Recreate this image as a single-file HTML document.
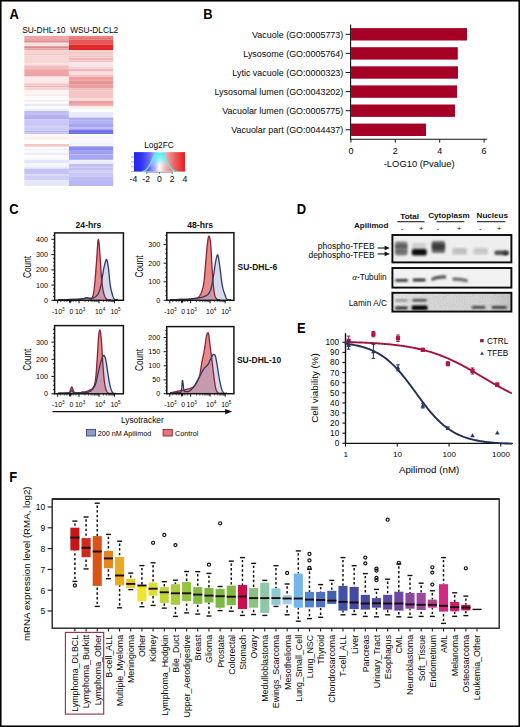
<!DOCTYPE html>
<html><head><meta charset="utf-8"><style>
html,body{margin:0;padding:0;background:#fff;}
svg{display:block;}
svg text{font-family:"Liberation Sans", sans-serif;}
</style></head><body>
<svg width="520" height="727" viewBox="0 0 520 727">
<rect x="0" y="0" width="520" height="727" fill="#fff"/>
<rect x="0.75" y="0.75" width="518.5" height="725.5" fill="none" stroke="#000" stroke-width="1.6"/>
<text transform="translate(9.5,18.8) scale(0.94,1)" x="0" y="0" font-size="13.8" font-weight="bold" fill="#000">A</text>
<text transform="translate(203.3,18.8) scale(0.94,1)" x="0" y="0" font-size="13.8" font-weight="bold" fill="#000">B</text>
<text transform="translate(9.2,214.4) scale(0.94,1)" x="0" y="0" font-size="13.8" font-weight="bold" fill="#000">C</text>
<text transform="translate(296.7,214.1) scale(0.94,1)" x="0" y="0" font-size="13.8" font-weight="bold" fill="#000">D</text>
<text transform="translate(297.0,332.8) scale(0.94,1)" x="0" y="0" font-size="13.8" font-weight="bold" fill="#000">E</text>
<text transform="translate(9.3,481.9) scale(0.94,1)" x="0" y="0" font-size="13.8" font-weight="bold" fill="#000">F</text>
<rect x="24.30" y="35.90" width="44.60" height="3.00" fill="#EBA6A6" stroke="none" stroke-width="1" />
<rect x="24.30" y="38.90" width="44.60" height="2.00" fill="#E8A0A0" stroke="none" stroke-width="1" />
<rect x="24.30" y="40.90" width="44.60" height="1.80" fill="#DF8E8E" stroke="none" stroke-width="1" />
<rect x="24.30" y="42.70" width="44.60" height="3.50" fill="#FBE2E2" stroke="none" stroke-width="1" />
<rect x="24.30" y="46.20" width="44.60" height="2.00" fill="#DD8888" stroke="none" stroke-width="1" />
<rect x="24.30" y="48.20" width="44.60" height="2.10" fill="#E8A4A4" stroke="none" stroke-width="1" />
<rect x="24.30" y="50.30" width="44.60" height="3.70" fill="#F6D2D2" stroke="none" stroke-width="1" />
<rect x="24.30" y="54.00" width="44.60" height="1.40" fill="#F0C4C4" stroke="none" stroke-width="1" />
<rect x="24.30" y="55.40" width="44.60" height="8.30" fill="#F7D6D6" stroke="none" stroke-width="1" />
<rect x="24.30" y="63.70" width="44.60" height="1.80" fill="#FAE0E0" stroke="none" stroke-width="1" />
<rect x="24.30" y="65.50" width="44.60" height="2.40" fill="#F0BABA" stroke="none" stroke-width="1" />
<rect x="24.30" y="67.90" width="44.60" height="1.30" fill="#F2C0C0" stroke="none" stroke-width="1" />
<rect x="24.30" y="69.20" width="44.60" height="7.40" fill="#EEA4A4" stroke="none" stroke-width="1" />
<rect x="24.30" y="76.60" width="44.60" height="6.80" fill="#FCE8E8" stroke="none" stroke-width="1" />
<rect x="24.30" y="83.40" width="44.60" height="2.10" fill="#F4C6C6" stroke="none" stroke-width="1" />
<rect x="24.30" y="85.50" width="44.60" height="2.00" fill="#F0B8B8" stroke="none" stroke-width="1" />
<rect x="24.30" y="87.50" width="44.60" height="2.40" fill="#F6D0D0" stroke="none" stroke-width="1" />
<rect x="24.30" y="89.90" width="44.60" height="4.60" fill="#FEF4F4" stroke="none" stroke-width="1" />
<rect x="24.30" y="94.50" width="44.60" height="1.40" fill="#FAE6E6" stroke="none" stroke-width="1" />
<rect x="24.30" y="95.90" width="44.60" height="4.10" fill="#FEFAFA" stroke="none" stroke-width="1" />
<rect x="24.30" y="100.00" width="44.60" height="1.90" fill="#F8F0F4" stroke="none" stroke-width="1" />
<rect x="24.30" y="101.90" width="44.60" height="1.80" fill="#FEFCFE" stroke="none" stroke-width="1" />
<rect x="24.30" y="103.70" width="44.60" height="2.60" fill="#E6EAF8" stroke="none" stroke-width="1" />
<rect x="24.30" y="106.30" width="44.60" height="2.30" fill="#FCFCFF" stroke="none" stroke-width="1" />
<rect x="24.30" y="108.60" width="44.60" height="2.30" fill="#F0F0FC" stroke="none" stroke-width="1" />
<rect x="24.30" y="110.90" width="44.60" height="4.20" fill="#BEBEF2" stroke="none" stroke-width="1" />
<rect x="24.30" y="115.10" width="44.60" height="4.10" fill="#B0B0F0" stroke="none" stroke-width="1" />
<rect x="24.30" y="119.20" width="44.60" height="6.00" fill="#C8C8F6" stroke="none" stroke-width="1" />
<rect x="24.30" y="125.20" width="44.60" height="1.40" fill="#C0C0F2" stroke="none" stroke-width="1" />
<rect x="24.30" y="126.60" width="44.60" height="4.20" fill="#CCCCF6" stroke="none" stroke-width="1" />
<rect x="24.30" y="130.80" width="44.60" height="1.80" fill="#B8B8F0" stroke="none" stroke-width="1" />
<rect x="24.30" y="132.60" width="44.60" height="1.70" fill="#C4C4F2" stroke="none" stroke-width="1" />
<rect x="24.30" y="134.30" width="44.60" height="3.20" fill="#FEF8FA" stroke="none" stroke-width="1" />
<rect x="24.30" y="137.50" width="44.60" height="1.90" fill="#FAEEE4" stroke="none" stroke-width="1" />
<rect x="24.30" y="139.40" width="44.60" height="4.60" fill="#FEFCFC" stroke="none" stroke-width="1" />
<rect x="24.30" y="144.00" width="44.60" height="2.80" fill="#F4C6C6" stroke="none" stroke-width="1" />
<rect x="24.30" y="146.80" width="44.60" height="1.80" fill="#FEFEFF" stroke="none" stroke-width="1" />
<rect x="24.30" y="148.60" width="44.60" height="1.90" fill="#EEF0FA" stroke="none" stroke-width="1" />
<rect x="24.30" y="150.50" width="44.60" height="2.70" fill="#F8F8FE" stroke="none" stroke-width="1" />
<rect x="24.30" y="153.20" width="44.60" height="1.90" fill="#ECECF8" stroke="none" stroke-width="1" />
<rect x="24.30" y="155.10" width="44.60" height="3.70" fill="#FCFCFE" stroke="none" stroke-width="1" />
<rect x="24.30" y="158.80" width="44.60" height="1.00" fill="#F8F8FE" stroke="none" stroke-width="1" />
<rect x="24.30" y="159.80" width="44.60" height="3.30" fill="#E4E4FA" stroke="none" stroke-width="1" />
<rect x="24.30" y="163.10" width="44.60" height="4.10" fill="#F4F4FC" stroke="none" stroke-width="1" />
<rect x="24.30" y="167.20" width="44.60" height="1.40" fill="#E4E4FA" stroke="none" stroke-width="1" />
<rect x="24.30" y="168.60" width="44.60" height="6.00" fill="#C4C4F4" stroke="none" stroke-width="1" />
<rect x="24.30" y="174.60" width="44.60" height="1.40" fill="#D8D8F8" stroke="none" stroke-width="1" />
<rect x="24.30" y="176.00" width="44.60" height="4.20" fill="#CECEF6" stroke="none" stroke-width="1" />
<rect x="24.30" y="180.20" width="44.60" height="5.80" fill="#E6E6FA" stroke="none" stroke-width="1" />
<rect x="68.90" y="35.90" width="44.30" height="1.30" fill="#E88282" stroke="none" stroke-width="1" />
<rect x="68.90" y="37.20" width="44.30" height="2.40" fill="#E07070" stroke="none" stroke-width="1" />
<rect x="68.90" y="39.60" width="44.30" height="4.80" fill="#E45858" stroke="none" stroke-width="1" />
<rect x="68.90" y="44.40" width="44.30" height="5.80" fill="#E02828" stroke="none" stroke-width="1" />
<rect x="68.90" y="50.20" width="44.30" height="1.60" fill="#F6D0D0" stroke="none" stroke-width="1" />
<rect x="68.90" y="51.80" width="44.30" height="2.00" fill="#F2C2C4" stroke="none" stroke-width="1" />
<rect x="68.90" y="53.80" width="44.30" height="1.90" fill="#F4CCCC" stroke="none" stroke-width="1" />
<rect x="68.90" y="55.70" width="44.30" height="1.90" fill="#F2C4C6" stroke="none" stroke-width="1" />
<rect x="68.90" y="57.60" width="44.30" height="2.90" fill="#F0B8BC" stroke="none" stroke-width="1" />
<rect x="68.90" y="60.50" width="44.30" height="1.50" fill="#F2C4C6" stroke="none" stroke-width="1" />
<rect x="68.90" y="62.00" width="44.30" height="4.80" fill="#FAE6EA" stroke="none" stroke-width="1" />
<rect x="68.90" y="66.80" width="44.30" height="1.90" fill="#F6D4D6" stroke="none" stroke-width="1" />
<rect x="68.90" y="68.70" width="44.30" height="2.90" fill="#F0B8BC" stroke="none" stroke-width="1" />
<rect x="68.90" y="71.60" width="44.30" height="3.30" fill="#F8DEDE" stroke="none" stroke-width="1" />
<rect x="68.90" y="74.90" width="44.30" height="2.10" fill="#F2C4C4" stroke="none" stroke-width="1" />
<rect x="68.90" y="77.00" width="44.30" height="3.30" fill="#EEA0A0" stroke="none" stroke-width="1" />
<rect x="68.90" y="80.30" width="44.30" height="4.40" fill="#E89494" stroke="none" stroke-width="1" />
<rect x="68.90" y="84.70" width="44.30" height="3.80" fill="#EC9E9E" stroke="none" stroke-width="1" />
<rect x="68.90" y="88.50" width="44.30" height="1.90" fill="#F4BCBC" stroke="none" stroke-width="1" />
<rect x="68.90" y="90.40" width="44.30" height="7.70" fill="#F4C6C6" stroke="none" stroke-width="1" />
<rect x="68.90" y="98.10" width="44.30" height="2.90" fill="#F8D8D8" stroke="none" stroke-width="1" />
<rect x="68.90" y="101.00" width="44.30" height="2.90" fill="#EC9C9C" stroke="none" stroke-width="1" />
<rect x="68.90" y="103.90" width="44.30" height="2.00" fill="#F0A8A8" stroke="none" stroke-width="1" />
<rect x="68.90" y="105.90" width="44.30" height="2.90" fill="#FCEEEA" stroke="none" stroke-width="1" />
<rect x="68.90" y="108.80" width="44.30" height="3.40" fill="#FEFEFE" stroke="none" stroke-width="1" />
<rect x="68.90" y="112.20" width="44.30" height="5.30" fill="#EAEAFA" stroke="none" stroke-width="1" />
<rect x="68.90" y="117.50" width="44.30" height="3.30" fill="#ACACF0" stroke="none" stroke-width="1" />
<rect x="68.90" y="120.80" width="44.30" height="2.40" fill="#B4B4F2" stroke="none" stroke-width="1" />
<rect x="68.90" y="123.20" width="44.30" height="3.90" fill="#A4A4F0" stroke="none" stroke-width="1" />
<rect x="68.90" y="127.10" width="44.30" height="2.40" fill="#B8B8F4" stroke="none" stroke-width="1" />
<rect x="68.90" y="129.50" width="44.30" height="4.50" fill="#7474E6" stroke="none" stroke-width="1" />
<rect x="68.90" y="134.00" width="44.30" height="2.30" fill="#FCFCFF" stroke="none" stroke-width="1" />
<rect x="68.90" y="136.30" width="44.30" height="2.90" fill="#FCF4EE" stroke="none" stroke-width="1" />
<rect x="68.90" y="139.20" width="44.30" height="3.40" fill="#F8F8FE" stroke="none" stroke-width="1" />
<rect x="68.90" y="142.60" width="44.30" height="3.80" fill="#F2F4FC" stroke="none" stroke-width="1" />
<rect x="68.90" y="146.40" width="44.30" height="4.40" fill="#8C8CEE" stroke="none" stroke-width="1" />
<rect x="68.90" y="150.80" width="44.30" height="3.80" fill="#A0A0F2" stroke="none" stroke-width="1" />
<rect x="68.90" y="154.60" width="44.30" height="5.30" fill="#A8A8F2" stroke="none" stroke-width="1" />
<rect x="68.90" y="159.90" width="44.30" height="3.90" fill="#EEEEFC" stroke="none" stroke-width="1" />
<rect x="68.90" y="163.80" width="44.30" height="3.80" fill="#C4C4F4" stroke="none" stroke-width="1" />
<rect x="68.90" y="167.60" width="44.30" height="2.40" fill="#C0C0F4" stroke="none" stroke-width="1" />
<rect x="68.90" y="170.00" width="44.30" height="2.40" fill="#D0D0F6" stroke="none" stroke-width="1" />
<rect x="68.90" y="172.40" width="44.30" height="3.90" fill="#C8C8F4" stroke="none" stroke-width="1" />
<rect x="68.90" y="176.30" width="44.30" height="3.80" fill="#BCBCF2" stroke="none" stroke-width="1" />
<rect x="68.90" y="180.10" width="44.30" height="5.90" fill="#B8B8F2" stroke="none" stroke-width="1" />
<text x="22.20" y="32.60" font-size="8.4" text-anchor="start" font-weight="normal" fill="#050505" >SU-DHL-10</text>
<text x="70.20" y="32.60" font-size="8.3" text-anchor="start" font-weight="normal" fill="#050505" >WSU-DLCL2</text>
<defs><linearGradient id="cbg" x1="0" x2="1" y1="0" y2="0"><stop offset="0" stop-color="#2424F2"/><stop offset="0.15" stop-color="#3434F2"/><stop offset="0.3" stop-color="#6a6af2"/><stop offset="0.4" stop-color="#a8a8f6"/><stop offset="0.5" stop-color="#FFFFFF"/><stop offset="0.62" stop-color="#F4B0B0"/><stop offset="0.8" stop-color="#EC6060"/><stop offset="1" stop-color="#E81C1C"/></linearGradient><linearGradient id="cyf" x1="0" x2="0" y1="0" y2="1"><stop offset="0" stop-color="#50F0F0" stop-opacity="0.95"/><stop offset="0.25" stop-color="#60F0F0" stop-opacity="0.85"/><stop offset="0.55" stop-color="#90F0F0" stop-opacity="0.35"/><stop offset="0.8" stop-color="#ffffff" stop-opacity="0"/></linearGradient></defs>
<rect x="134.00" y="152.10" width="51.00" height="19.50" fill="url(#cbg)" stroke="none" stroke-width="1" />
<path d="M142.00,171.60 L142.41,171.49 L143.00,171.35 L143.68,171.16 L144.38,170.92 L145.00,170.60 L145.55,170.20 L146.07,169.74 L146.58,169.22 L147.09,168.64 L147.60,168.00 L148.13,167.30 L148.66,166.53 L149.19,165.72 L149.71,164.87 L150.20,164.00 L150.67,163.10 L151.12,162.14 L151.56,161.17 L151.99,160.21 L152.40,159.30 L152.81,158.42 L153.20,157.55 L153.58,156.72 L153.95,155.93 L154.30,155.20 L154.65,154.51 L155.00,153.85 L155.33,153.26 L155.60,152.76 L155.80,152.40 L163.60,152.40 L163.76,152.76 L163.98,153.26 L164.24,153.85 L164.52,154.51 L164.80,155.20 L165.07,155.93 L165.36,156.72 L165.66,157.55 L165.97,158.42 L166.30,159.30 L166.64,160.21 L167.00,161.17 L167.37,162.14 L167.77,163.10 L168.20,164.00 L168.67,164.87 L169.18,165.72 L169.71,166.53 L170.26,167.30 L170.80,168.00 L171.34,168.64 L171.88,169.22 L172.43,169.74 L173.00,170.20 L173.60,170.60 L174.30,170.92 L175.08,171.16 L175.86,171.35 L176.53,171.49 L177.00,171.60 Z" fill="url(#cyf)" stroke="none"/>
<path d="M142.00,171.60 L142.41,171.49 L143.00,171.35 L143.68,171.16 L144.38,170.92 L145.00,170.60 L145.55,170.20 L146.07,169.74 L146.58,169.22 L147.09,168.64 L147.60,168.00 L148.13,167.30 L148.66,166.53 L149.19,165.72 L149.71,164.87 L150.20,164.00 L150.67,163.10 L151.12,162.14 L151.56,161.17 L151.99,160.21 L152.40,159.30 L152.81,158.42 L153.20,157.55 L153.58,156.72 L153.95,155.93 L154.30,155.20 L154.65,154.51 L155.00,153.85 L155.33,153.26 L155.60,152.76 L155.80,152.40" fill="none" stroke="#5EEAEE" stroke-width="1.4"/>
<path d="M163.60,152.40 L163.76,152.76 L163.98,153.26 L164.24,153.85 L164.52,154.51 L164.80,155.20 L165.07,155.93 L165.36,156.72 L165.66,157.55 L165.97,158.42 L166.30,159.30 L166.64,160.21 L167.00,161.17 L167.37,162.14 L167.77,163.10 L168.20,164.00 L168.67,164.87 L169.18,165.72 L169.71,166.53 L170.26,167.30 L170.80,168.00 L171.34,168.64 L171.88,169.22 L172.43,169.74 L173.00,170.20 L173.60,170.60 L174.30,170.92 L175.08,171.16 L175.86,171.35 L176.53,171.49 L177.00,171.60" fill="none" stroke="#5EEAEE" stroke-width="1.4"/>
<line x1="131.00" y1="157.00" x2="134.00" y2="157.00" stroke="#9a9a80" stroke-width="0.8" />
<line x1="131.00" y1="161.90" x2="134.00" y2="161.90" stroke="#9a9a80" stroke-width="0.8" />
<line x1="131.00" y1="166.80" x2="134.00" y2="166.80" stroke="#9a9a80" stroke-width="0.8" />
<line x1="131.00" y1="171.60" x2="134.00" y2="171.60" stroke="#9a9a80" stroke-width="0.8" />
<line x1="146.75" y1="172.20" x2="172.25" y2="172.20" stroke="#8a9090" stroke-width="0.9" />
<line x1="146.75" y1="172.00" x2="146.75" y2="174.00" stroke="#707878" stroke-width="0.9" />
<line x1="159.50" y1="172.00" x2="159.50" y2="174.00" stroke="#707878" stroke-width="0.9" />
<line x1="172.25" y1="172.00" x2="172.25" y2="174.00" stroke="#707878" stroke-width="0.9" />
<text x="159.00" y="148.20" font-size="8.3" text-anchor="middle" font-weight="normal" fill="#050505" >Log2FC</text>
<text x="133.40" y="182.30" font-size="8.6" text-anchor="middle" font-weight="normal" fill="#050505" >-4</text>
<text x="146.15" y="182.30" font-size="8.6" text-anchor="middle" font-weight="normal" fill="#050505" >-2</text>
<text x="159.50" y="182.30" font-size="8.6" text-anchor="middle" font-weight="normal" fill="#050505" >0</text>
<text x="172.25" y="182.30" font-size="8.6" text-anchor="middle" font-weight="normal" fill="#050505" >2</text>
<text x="185.00" y="182.30" font-size="8.6" text-anchor="middle" font-weight="normal" fill="#050505" >4</text>
<rect x="351.10" y="28.10" width="115.90" height="12.40" fill="#A60026" stroke="none" stroke-width="1" />
<text x="343.30" y="37.60" font-size="8.95" text-anchor="end" font-weight="normal" fill="#050505" >Vacuole (GO:0005773)</text>
<line x1="345.60" y1="34.30" x2="350.60" y2="34.30" stroke="#111" stroke-width="1" />
<rect x="351.10" y="47.20" width="106.70" height="12.40" fill="#A60026" stroke="none" stroke-width="1" />
<text x="343.30" y="56.70" font-size="8.95" text-anchor="end" font-weight="normal" fill="#050505" >Lysosome (GO:0005764)</text>
<line x1="345.60" y1="53.40" x2="350.60" y2="53.40" stroke="#111" stroke-width="1" />
<rect x="351.10" y="66.30" width="106.90" height="12.40" fill="#A60026" stroke="none" stroke-width="1" />
<text x="343.30" y="75.80" font-size="8.95" text-anchor="end" font-weight="normal" fill="#050505" >Lytic vacuole (GO:0000323)</text>
<line x1="345.60" y1="72.50" x2="350.60" y2="72.50" stroke="#111" stroke-width="1" />
<rect x="351.10" y="85.40" width="105.90" height="12.40" fill="#A60026" stroke="none" stroke-width="1" />
<text x="343.30" y="94.90" font-size="8.95" text-anchor="end" font-weight="normal" fill="#050505" >Lysosomal lumen (GO:0043202)</text>
<line x1="345.60" y1="91.60" x2="350.60" y2="91.60" stroke="#111" stroke-width="1" />
<rect x="351.10" y="104.50" width="103.90" height="12.40" fill="#A60026" stroke="none" stroke-width="1" />
<text x="343.30" y="114.00" font-size="8.95" text-anchor="end" font-weight="normal" fill="#050505" >Vacuolar lumen (GO:0005775)</text>
<line x1="345.60" y1="110.70" x2="350.60" y2="110.70" stroke="#111" stroke-width="1" />
<rect x="351.10" y="123.60" width="74.90" height="12.40" fill="#A60026" stroke="none" stroke-width="1" />
<text x="343.30" y="133.10" font-size="8.95" text-anchor="end" font-weight="normal" fill="#050505" >Vacuolar part (GO:0044437)</text>
<line x1="345.60" y1="129.80" x2="350.60" y2="129.80" stroke="#111" stroke-width="1" />
<line x1="350.60" y1="24.40" x2="350.60" y2="139.60" stroke="#111" stroke-width="1.1" />
<line x1="350.00" y1="139.20" x2="487.20" y2="139.20" stroke="#111" stroke-width="1.1" />
<line x1="350.90" y1="139.20" x2="350.90" y2="142.60" stroke="#111" stroke-width="1" />
<text x="350.90" y="153.80" font-size="9" text-anchor="middle" font-weight="normal" fill="#050505" >0</text>
<line x1="395.30" y1="139.20" x2="395.30" y2="142.60" stroke="#111" stroke-width="1" />
<text x="395.30" y="153.80" font-size="9" text-anchor="middle" font-weight="normal" fill="#050505" >2</text>
<line x1="439.70" y1="139.20" x2="439.70" y2="142.60" stroke="#111" stroke-width="1" />
<text x="439.70" y="153.80" font-size="9" text-anchor="middle" font-weight="normal" fill="#050505" >4</text>
<line x1="484.10" y1="139.20" x2="484.10" y2="142.60" stroke="#111" stroke-width="1" />
<text x="484.10" y="153.80" font-size="9" text-anchor="middle" font-weight="normal" fill="#050505" >6</text>
<text x="419.20" y="166.90" font-size="9.4" text-anchor="middle" font-weight="normal" fill="#050505" >-LOG10 (Pvalue)</text>
<text x="88.50" y="228.20" font-size="8.6" text-anchor="middle" font-weight="bold" fill="#111" >24-hrs</text>
<text x="200.20" y="228.20" font-size="8.6" text-anchor="middle" font-weight="bold" fill="#111" >48-hrs</text>
<text x="237.50" y="269.70" font-size="8.5" text-anchor="start" font-weight="bold" fill="#111" >SU-DHL-6</text>
<text x="236.90" y="363.10" font-size="8.5" text-anchor="start" font-weight="bold" fill="#111" >SU-DHL-10</text>
<path d="M58.00,299.60 L59.94,299.59 L62.70,299.57 L65.94,299.55 L69.30,299.52 L72.43,299.47 L75.00,299.40 L77.03,299.30 L78.81,299.17 L80.38,299.03 L81.74,298.88 L82.94,298.73 L84.00,298.60 L84.85,298.46 L85.44,298.30 L85.88,298.14 L86.22,298.01 L86.57,297.92 L87.00,297.90 L87.51,297.97 L88.04,298.13 L88.56,298.33 L89.07,298.54 L89.56,298.71 L90.00,298.80 L90.39,298.91 L90.73,299.10 L91.05,299.24 L91.36,299.25 L91.67,299.00 L92.00,298.40 L92.35,297.56 L92.71,296.59 L93.08,295.36 L93.45,293.77 L93.83,291.69 L94.20,289.00 L94.58,285.47 L94.98,281.14 L95.38,276.33 L95.77,271.33 L96.14,266.45 L96.50,262.00 L96.83,257.49 L97.13,252.58 L97.43,247.79 L97.71,243.64 L98.00,240.64 L98.30,239.30 L98.62,239.98 L98.94,242.33 L99.27,245.83 L99.59,249.95 L99.91,254.18 L100.20,258.00 L100.46,261.63 L100.70,265.55 L100.93,269.57 L101.16,273.53 L101.41,277.23 L101.70,280.50 L102.03,283.36 L102.38,285.97 L102.76,288.32 L103.15,290.43 L103.57,292.32 L104.00,294.00 L104.45,295.43 L104.91,296.59 L105.39,297.53 L105.90,298.28 L106.43,298.89 L107.00,299.40 L107.66,299.75 L108.41,299.89 L109.19,299.89 L109.93,299.81 L110.55,299.73 L111.00,299.70 L111.00,299.70 L58.00,299.70 Z" fill="rgba(214,74,70,0.64)" stroke="none"/>
<path d="M58.00,299.60 L59.94,299.59 L62.70,299.58 L65.94,299.56 L69.30,299.53 L72.43,299.48 L75.00,299.40 L77.04,299.28 L78.83,299.12 L80.41,298.94 L81.78,298.75 L82.97,298.56 L84.00,298.40 L84.79,298.24 L85.31,298.07 L85.66,297.90 L85.91,297.76 L86.16,297.65 L86.50,297.60 L86.89,297.63 L87.26,297.73 L87.62,297.88 L88.02,298.02 L88.47,298.14 L89.00,298.20 L89.63,298.23 L90.35,298.27 L91.12,298.27 L91.93,298.22 L92.73,298.07 L93.50,297.80 L94.27,297.42 L95.06,296.98 L95.84,296.44 L96.61,295.78 L97.34,294.97 L98.00,294.00 L98.60,292.85 L99.14,291.55 L99.64,290.11 L100.11,288.53 L100.56,286.82 L101.00,285.00 L101.42,282.96 L101.80,280.67 L102.16,278.25 L102.51,275.83 L102.85,273.54 L103.20,271.50 L103.55,269.67 L103.90,267.94 L104.24,266.34 L104.58,264.88 L104.90,263.59 L105.20,262.50 L105.48,261.53 L105.73,260.64 L105.96,259.93 L106.20,259.47 L106.44,259.33 L106.70,259.60 L106.99,260.33 L107.29,261.47 L107.60,262.93 L107.91,264.64 L108.21,266.53 L108.50,268.50 L108.76,270.70 L109.00,273.21 L109.22,275.90 L109.46,278.61 L109.71,281.19 L110.00,283.50 L110.33,285.57 L110.68,287.53 L111.05,289.36 L111.43,291.06 L111.82,292.61 L112.20,294.00 L112.56,295.23 L112.91,296.30 L113.27,297.23 L113.64,298.01 L114.05,298.67 L114.50,299.20 L115.05,299.56 L115.71,299.73 L116.39,299.77 L117.05,299.74 L117.61,299.70 L118.00,299.70 L118.00,299.70 L58.00,299.70 Z" fill="rgba(160,170,215,0.45)" stroke="none"/>
<path d="M58.00,299.60 L59.94,299.59 L62.70,299.57 L65.94,299.55 L69.30,299.52 L72.43,299.47 L75.00,299.40 L77.03,299.30 L78.81,299.17 L80.38,299.03 L81.74,298.88 L82.94,298.73 L84.00,298.60 L84.85,298.46 L85.44,298.30 L85.88,298.14 L86.22,298.01 L86.57,297.92 L87.00,297.90 L87.51,297.97 L88.04,298.13 L88.56,298.33 L89.07,298.54 L89.56,298.71 L90.00,298.80 L90.39,298.91 L90.73,299.10 L91.05,299.24 L91.36,299.25 L91.67,299.00 L92.00,298.40 L92.35,297.56 L92.71,296.59 L93.08,295.36 L93.45,293.77 L93.83,291.69 L94.20,289.00 L94.58,285.47 L94.98,281.14 L95.38,276.33 L95.77,271.33 L96.14,266.45 L96.50,262.00 L96.83,257.49 L97.13,252.58 L97.43,247.79 L97.71,243.64 L98.00,240.64 L98.30,239.30 L98.62,239.98 L98.94,242.33 L99.27,245.83 L99.59,249.95 L99.91,254.18 L100.20,258.00 L100.46,261.63 L100.70,265.55 L100.93,269.57 L101.16,273.53 L101.41,277.23 L101.70,280.50 L102.03,283.36 L102.38,285.97 L102.76,288.32 L103.15,290.43 L103.57,292.32 L104.00,294.00 L104.45,295.43 L104.91,296.59 L105.39,297.53 L105.90,298.28 L106.43,298.89 L107.00,299.40 L107.66,299.75 L108.41,299.89 L109.19,299.89 L109.93,299.81 L110.55,299.73 L111.00,299.70" fill="none" stroke="#8F2035" stroke-width="1.3" stroke-linejoin="round"/>
<path d="M58.00,299.60 L59.94,299.59 L62.70,299.58 L65.94,299.56 L69.30,299.53 L72.43,299.48 L75.00,299.40 L77.04,299.28 L78.83,299.12 L80.41,298.94 L81.78,298.75 L82.97,298.56 L84.00,298.40 L84.79,298.24 L85.31,298.07 L85.66,297.90 L85.91,297.76 L86.16,297.65 L86.50,297.60 L86.89,297.63 L87.26,297.73 L87.62,297.88 L88.02,298.02 L88.47,298.14 L89.00,298.20 L89.63,298.23 L90.35,298.27 L91.12,298.27 L91.93,298.22 L92.73,298.07 L93.50,297.80 L94.27,297.42 L95.06,296.98 L95.84,296.44 L96.61,295.78 L97.34,294.97 L98.00,294.00 L98.60,292.85 L99.14,291.55 L99.64,290.11 L100.11,288.53 L100.56,286.82 L101.00,285.00 L101.42,282.96 L101.80,280.67 L102.16,278.25 L102.51,275.83 L102.85,273.54 L103.20,271.50 L103.55,269.67 L103.90,267.94 L104.24,266.34 L104.58,264.88 L104.90,263.59 L105.20,262.50 L105.48,261.53 L105.73,260.64 L105.96,259.93 L106.20,259.47 L106.44,259.33 L106.70,259.60 L106.99,260.33 L107.29,261.47 L107.60,262.93 L107.91,264.64 L108.21,266.53 L108.50,268.50 L108.76,270.70 L109.00,273.21 L109.22,275.90 L109.46,278.61 L109.71,281.19 L110.00,283.50 L110.33,285.57 L110.68,287.53 L111.05,289.36 L111.43,291.06 L111.82,292.61 L112.20,294.00 L112.56,295.23 L112.91,296.30 L113.27,297.23 L113.64,298.01 L114.05,298.67 L114.50,299.20 L115.05,299.56 L115.71,299.73 L116.39,299.77 L117.05,299.74 L117.61,299.70 L118.00,299.70" fill="none" stroke="#303A62" stroke-width="1.3" stroke-linejoin="round"/>
<rect x="54.60" y="232.90" width="68.80" height="67.40" fill="none" stroke="#151515" stroke-width="1.5" />
<line x1="51.40" y1="239.30" x2="54.60" y2="239.30" stroke="#151515" stroke-width="1" />
<text x="48.00" y="241.70" font-size="7.2" text-anchor="end" font-weight="normal" fill="#050505" >400</text>
<line x1="51.40" y1="254.60" x2="54.60" y2="254.60" stroke="#151515" stroke-width="1" />
<text x="48.00" y="257.00" font-size="7.2" text-anchor="end" font-weight="normal" fill="#050505" >300</text>
<line x1="51.40" y1="269.90" x2="54.60" y2="269.90" stroke="#151515" stroke-width="1" />
<text x="48.00" y="272.30" font-size="7.2" text-anchor="end" font-weight="normal" fill="#050505" >200</text>
<line x1="51.40" y1="285.10" x2="54.60" y2="285.10" stroke="#151515" stroke-width="1" />
<text x="48.00" y="287.50" font-size="7.2" text-anchor="end" font-weight="normal" fill="#050505" >100</text>
<line x1="51.40" y1="300.30" x2="54.60" y2="300.30" stroke="#151515" stroke-width="1" />
<text x="48.00" y="302.70" font-size="7.2" text-anchor="end" font-weight="normal" fill="#050505" >0</text>
<line x1="53.00" y1="235.49" x2="54.60" y2="235.49" stroke="#151515" stroke-width="0.8" />
<line x1="53.00" y1="243.11" x2="54.60" y2="243.11" stroke="#151515" stroke-width="0.8" />
<line x1="53.00" y1="246.93" x2="54.60" y2="246.93" stroke="#151515" stroke-width="0.8" />
<line x1="53.00" y1="250.74" x2="54.60" y2="250.74" stroke="#151515" stroke-width="0.8" />
<line x1="53.00" y1="258.36" x2="54.60" y2="258.36" stroke="#151515" stroke-width="0.8" />
<line x1="53.00" y1="262.18" x2="54.60" y2="262.18" stroke="#151515" stroke-width="0.8" />
<line x1="53.00" y1="265.99" x2="54.60" y2="265.99" stroke="#151515" stroke-width="0.8" />
<line x1="53.00" y1="273.61" x2="54.60" y2="273.61" stroke="#151515" stroke-width="0.8" />
<line x1="53.00" y1="277.43" x2="54.60" y2="277.43" stroke="#151515" stroke-width="0.8" />
<line x1="53.00" y1="281.24" x2="54.60" y2="281.24" stroke="#151515" stroke-width="0.8" />
<line x1="53.00" y1="288.86" x2="54.60" y2="288.86" stroke="#151515" stroke-width="0.8" />
<line x1="53.00" y1="292.68" x2="54.60" y2="292.68" stroke="#151515" stroke-width="0.8" />
<line x1="53.00" y1="296.49" x2="54.60" y2="296.49" stroke="#151515" stroke-width="0.8" />
<line x1="57.70" y1="300.30" x2="57.70" y2="303.30" stroke="#151515" stroke-width="1" />
<line x1="70.08" y1="300.30" x2="70.08" y2="303.30" stroke="#151515" stroke-width="1" />
<line x1="79.02" y1="300.30" x2="79.02" y2="303.30" stroke="#151515" stroke-width="1" />
<line x1="98.98" y1="300.30" x2="98.98" y2="303.30" stroke="#151515" stroke-width="1" />
<line x1="114.46" y1="300.30" x2="114.46" y2="303.30" stroke="#151515" stroke-width="1" />
<line x1="85.03" y1="300.30" x2="85.03" y2="302.10" stroke="#151515" stroke-width="0.7" />
<line x1="88.54" y1="300.30" x2="88.54" y2="302.10" stroke="#151515" stroke-width="0.7" />
<line x1="91.04" y1="300.30" x2="91.04" y2="302.10" stroke="#151515" stroke-width="0.7" />
<line x1="92.97" y1="300.30" x2="92.97" y2="302.10" stroke="#151515" stroke-width="0.7" />
<line x1="94.55" y1="300.30" x2="94.55" y2="302.10" stroke="#151515" stroke-width="0.7" />
<line x1="95.89" y1="300.30" x2="95.89" y2="302.10" stroke="#151515" stroke-width="0.7" />
<line x1="97.04" y1="300.30" x2="97.04" y2="302.10" stroke="#151515" stroke-width="0.7" />
<line x1="98.06" y1="300.30" x2="98.06" y2="302.10" stroke="#151515" stroke-width="0.7" />
<line x1="103.64" y1="300.30" x2="103.64" y2="302.10" stroke="#151515" stroke-width="0.7" />
<line x1="106.36" y1="300.30" x2="106.36" y2="302.10" stroke="#151515" stroke-width="0.7" />
<line x1="108.30" y1="300.30" x2="108.30" y2="302.10" stroke="#151515" stroke-width="0.7" />
<line x1="109.80" y1="300.30" x2="109.80" y2="302.10" stroke="#151515" stroke-width="0.7" />
<line x1="111.02" y1="300.30" x2="111.02" y2="302.10" stroke="#151515" stroke-width="0.7" />
<line x1="112.06" y1="300.30" x2="112.06" y2="302.10" stroke="#151515" stroke-width="0.7" />
<line x1="112.96" y1="300.30" x2="112.96" y2="302.10" stroke="#151515" stroke-width="0.7" />
<line x1="113.75" y1="300.30" x2="113.75" y2="302.10" stroke="#151515" stroke-width="0.7" />
<line x1="60.79" y1="300.30" x2="60.79" y2="302.10" stroke="#151515" stroke-width="0.7" />
<line x1="64.23" y1="300.30" x2="64.23" y2="302.10" stroke="#151515" stroke-width="0.7" />
<line x1="66.98" y1="300.30" x2="66.98" y2="302.10" stroke="#151515" stroke-width="0.7" />
<line x1="73.18" y1="300.30" x2="73.18" y2="302.10" stroke="#151515" stroke-width="0.7" />
<line x1="75.93" y1="300.30" x2="75.93" y2="302.10" stroke="#151515" stroke-width="0.7" />
<rect x="69.09" y="299.70" width="2.40" height="2.60" fill="#111" stroke="none" stroke-width="1" />
<text x="58.30" y="313.60" font-size="6.9" text-anchor="middle" fill="#050505">-10<tspan font-size="4.6" dy="-2.9">3</tspan></text>
<text x="71.32" y="313.60" font-size="6.9" text-anchor="middle" font-weight="normal" fill="#050505" >0</text>
<text x="80.12" y="313.60" font-size="6.9" text-anchor="middle" fill="#050505">10<tspan font-size="4.6" dy="-2.9">3</tspan></text>
<text x="100.08" y="313.60" font-size="6.9" text-anchor="middle" fill="#050505">10<tspan font-size="4.6" dy="-2.9">4</tspan></text>
<text x="115.56" y="313.60" font-size="6.9" text-anchor="middle" fill="#050505">10<tspan font-size="4.6" dy="-2.9">5</tspan></text>
<text transform="translate(31.00,267.00) rotate(-90) scale(0.77,1)" x="0" y="0" font-size="10.8" text-anchor="middle" fill="#050505">Count</text>
<path d="M170.00,299.60 L171.71,299.59 L174.15,299.57 L177.00,299.55 L179.96,299.52 L182.73,299.47 L185.00,299.40 L186.76,299.31 L188.26,299.21 L189.56,299.10 L190.74,298.96 L191.86,298.80 L193.00,298.60 L194.13,298.47 L195.20,298.44 L196.22,298.39 L197.19,298.18 L198.11,297.69 L199.00,296.80 L199.86,295.54 L200.70,294.00 L201.49,292.19 L202.23,290.10 L202.90,287.70 L203.50,285.00 L204.00,281.83 L204.42,278.18 L204.77,274.23 L205.08,270.17 L205.38,266.20 L205.70,262.50 L206.03,258.93 L206.34,255.31 L206.64,251.77 L206.94,248.45 L207.22,245.48 L207.50,243.00 L207.77,240.96 L208.01,239.23 L208.26,237.86 L208.50,236.88 L208.74,236.31 L209.00,236.20 L209.27,236.51 L209.56,237.21 L209.85,238.33 L210.14,239.90 L210.43,241.95 L210.70,244.50 L210.96,247.81 L211.20,251.89 L211.44,256.46 L211.69,261.20 L211.93,265.81 L212.20,270.00 L212.48,273.92 L212.76,277.83 L213.06,281.62 L213.36,285.17 L213.67,288.33 L214.00,291.00 L214.32,293.10 L214.64,294.73 L214.97,295.99 L215.33,296.97 L215.74,297.77 L216.20,298.50 L216.78,299.08 L217.49,299.41 L218.24,299.57 L218.96,299.62 L219.57,299.64 L220.00,299.70 L220.00,299.70 L170.00,299.70 Z" fill="rgba(214,74,70,0.64)" stroke="none"/>
<path d="M170.00,299.60 L171.71,299.58 L174.15,299.56 L177.00,299.54 L179.96,299.50 L182.73,299.46 L185.00,299.40 L186.69,299.35 L188.04,299.30 L189.19,299.25 L190.30,299.16 L191.52,299.02 L193.00,298.80 L194.85,298.51 L196.96,298.18 L199.17,297.79 L201.36,297.33 L203.35,296.81 L205.00,296.20 L206.29,295.58 L207.32,294.97 L208.16,294.28 L208.88,293.44 L209.54,292.38 L210.20,291.00 L210.84,289.25 L211.39,287.17 L211.88,284.86 L212.33,282.42 L212.77,279.93 L213.20,277.50 L213.62,275.00 L214.02,272.34 L214.40,269.64 L214.77,267.01 L215.13,264.59 L215.50,262.50 L215.87,260.58 L216.25,258.71 L216.62,257.04 L216.99,255.73 L217.35,254.93 L217.70,254.80 L218.04,255.42 L218.36,256.68 L218.68,258.45 L219.00,260.60 L219.34,262.99 L219.70,265.50 L220.08,268.34 L220.48,271.68 L220.89,275.26 L221.31,278.84 L221.75,282.17 L222.20,285.00 L222.68,287.35 L223.19,289.41 L223.71,291.22 L224.23,292.81 L224.73,294.23 L225.20,295.50 L225.61,296.59 L225.97,297.46 L226.32,298.14 L226.67,298.69 L227.06,299.13 L227.50,299.50 L228.05,299.76 L228.71,299.86 L229.39,299.85 L230.05,299.79 L230.61,299.72 L231.00,299.70 L231.00,299.70 L170.00,299.70 Z" fill="rgba(160,170,215,0.45)" stroke="none"/>
<path d="M170.00,299.60 L171.71,299.59 L174.15,299.57 L177.00,299.55 L179.96,299.52 L182.73,299.47 L185.00,299.40 L186.76,299.31 L188.26,299.21 L189.56,299.10 L190.74,298.96 L191.86,298.80 L193.00,298.60 L194.13,298.47 L195.20,298.44 L196.22,298.39 L197.19,298.18 L198.11,297.69 L199.00,296.80 L199.86,295.54 L200.70,294.00 L201.49,292.19 L202.23,290.10 L202.90,287.70 L203.50,285.00 L204.00,281.83 L204.42,278.18 L204.77,274.23 L205.08,270.17 L205.38,266.20 L205.70,262.50 L206.03,258.93 L206.34,255.31 L206.64,251.77 L206.94,248.45 L207.22,245.48 L207.50,243.00 L207.77,240.96 L208.01,239.23 L208.26,237.86 L208.50,236.88 L208.74,236.31 L209.00,236.20 L209.27,236.51 L209.56,237.21 L209.85,238.33 L210.14,239.90 L210.43,241.95 L210.70,244.50 L210.96,247.81 L211.20,251.89 L211.44,256.46 L211.69,261.20 L211.93,265.81 L212.20,270.00 L212.48,273.92 L212.76,277.83 L213.06,281.62 L213.36,285.17 L213.67,288.33 L214.00,291.00 L214.32,293.10 L214.64,294.73 L214.97,295.99 L215.33,296.97 L215.74,297.77 L216.20,298.50 L216.78,299.08 L217.49,299.41 L218.24,299.57 L218.96,299.62 L219.57,299.64 L220.00,299.70" fill="none" stroke="#8F2035" stroke-width="1.3" stroke-linejoin="round"/>
<path d="M170.00,299.60 L171.71,299.58 L174.15,299.56 L177.00,299.54 L179.96,299.50 L182.73,299.46 L185.00,299.40 L186.69,299.35 L188.04,299.30 L189.19,299.25 L190.30,299.16 L191.52,299.02 L193.00,298.80 L194.85,298.51 L196.96,298.18 L199.17,297.79 L201.36,297.33 L203.35,296.81 L205.00,296.20 L206.29,295.58 L207.32,294.97 L208.16,294.28 L208.88,293.44 L209.54,292.38 L210.20,291.00 L210.84,289.25 L211.39,287.17 L211.88,284.86 L212.33,282.42 L212.77,279.93 L213.20,277.50 L213.62,275.00 L214.02,272.34 L214.40,269.64 L214.77,267.01 L215.13,264.59 L215.50,262.50 L215.87,260.58 L216.25,258.71 L216.62,257.04 L216.99,255.73 L217.35,254.93 L217.70,254.80 L218.04,255.42 L218.36,256.68 L218.68,258.45 L219.00,260.60 L219.34,262.99 L219.70,265.50 L220.08,268.34 L220.48,271.68 L220.89,275.26 L221.31,278.84 L221.75,282.17 L222.20,285.00 L222.68,287.35 L223.19,289.41 L223.71,291.22 L224.23,292.81 L224.73,294.23 L225.20,295.50 L225.61,296.59 L225.97,297.46 L226.32,298.14 L226.67,298.69 L227.06,299.13 L227.50,299.50 L228.05,299.76 L228.71,299.86 L229.39,299.85 L230.05,299.79 L230.61,299.72 L231.00,299.70" fill="none" stroke="#303A62" stroke-width="1.3" stroke-linejoin="round"/>
<rect x="166.80" y="232.70" width="67.10" height="67.60" fill="none" stroke="#151515" stroke-width="1.5" />
<line x1="163.60" y1="244.60" x2="166.80" y2="244.60" stroke="#151515" stroke-width="1" />
<text x="160.20" y="247.00" font-size="7.2" text-anchor="end" font-weight="normal" fill="#050505" >300</text>
<line x1="163.60" y1="263.20" x2="166.80" y2="263.20" stroke="#151515" stroke-width="1" />
<text x="160.20" y="265.60" font-size="7.2" text-anchor="end" font-weight="normal" fill="#050505" >200</text>
<line x1="163.60" y1="281.80" x2="166.80" y2="281.80" stroke="#151515" stroke-width="1" />
<text x="160.20" y="284.20" font-size="7.2" text-anchor="end" font-weight="normal" fill="#050505" >100</text>
<line x1="163.60" y1="300.30" x2="166.80" y2="300.30" stroke="#151515" stroke-width="1" />
<text x="160.20" y="302.70" font-size="7.2" text-anchor="end" font-weight="normal" fill="#050505" >0</text>
<line x1="165.20" y1="235.32" x2="166.80" y2="235.32" stroke="#151515" stroke-width="0.8" />
<line x1="165.20" y1="239.96" x2="166.80" y2="239.96" stroke="#151515" stroke-width="0.8" />
<line x1="165.20" y1="249.24" x2="166.80" y2="249.24" stroke="#151515" stroke-width="0.8" />
<line x1="165.20" y1="253.88" x2="166.80" y2="253.88" stroke="#151515" stroke-width="0.8" />
<line x1="165.20" y1="258.53" x2="166.80" y2="258.53" stroke="#151515" stroke-width="0.8" />
<line x1="165.20" y1="267.81" x2="166.80" y2="267.81" stroke="#151515" stroke-width="0.8" />
<line x1="165.20" y1="272.45" x2="166.80" y2="272.45" stroke="#151515" stroke-width="0.8" />
<line x1="165.20" y1="277.09" x2="166.80" y2="277.09" stroke="#151515" stroke-width="0.8" />
<line x1="165.20" y1="286.37" x2="166.80" y2="286.37" stroke="#151515" stroke-width="0.8" />
<line x1="165.20" y1="291.02" x2="166.80" y2="291.02" stroke="#151515" stroke-width="0.8" />
<line x1="165.20" y1="295.66" x2="166.80" y2="295.66" stroke="#151515" stroke-width="0.8" />
<line x1="169.82" y1="300.30" x2="169.82" y2="303.30" stroke="#151515" stroke-width="1" />
<line x1="181.90" y1="300.30" x2="181.90" y2="303.30" stroke="#151515" stroke-width="1" />
<line x1="190.62" y1="300.30" x2="190.62" y2="303.30" stroke="#151515" stroke-width="1" />
<line x1="210.08" y1="300.30" x2="210.08" y2="303.30" stroke="#151515" stroke-width="1" />
<line x1="225.18" y1="300.30" x2="225.18" y2="303.30" stroke="#151515" stroke-width="1" />
<line x1="196.48" y1="300.30" x2="196.48" y2="302.10" stroke="#151515" stroke-width="0.7" />
<line x1="199.90" y1="300.30" x2="199.90" y2="302.10" stroke="#151515" stroke-width="0.7" />
<line x1="202.34" y1="300.30" x2="202.34" y2="302.10" stroke="#151515" stroke-width="0.7" />
<line x1="204.22" y1="300.30" x2="204.22" y2="302.10" stroke="#151515" stroke-width="0.7" />
<line x1="205.76" y1="300.30" x2="205.76" y2="302.10" stroke="#151515" stroke-width="0.7" />
<line x1="207.07" y1="300.30" x2="207.07" y2="302.10" stroke="#151515" stroke-width="0.7" />
<line x1="208.19" y1="300.30" x2="208.19" y2="302.10" stroke="#151515" stroke-width="0.7" />
<line x1="209.19" y1="300.30" x2="209.19" y2="302.10" stroke="#151515" stroke-width="0.7" />
<line x1="214.62" y1="300.30" x2="214.62" y2="302.10" stroke="#151515" stroke-width="0.7" />
<line x1="217.28" y1="300.30" x2="217.28" y2="302.10" stroke="#151515" stroke-width="0.7" />
<line x1="219.17" y1="300.30" x2="219.17" y2="302.10" stroke="#151515" stroke-width="0.7" />
<line x1="220.63" y1="300.30" x2="220.63" y2="302.10" stroke="#151515" stroke-width="0.7" />
<line x1="221.83" y1="300.30" x2="221.83" y2="302.10" stroke="#151515" stroke-width="0.7" />
<line x1="222.84" y1="300.30" x2="222.84" y2="302.10" stroke="#151515" stroke-width="0.7" />
<line x1="223.71" y1="300.30" x2="223.71" y2="302.10" stroke="#151515" stroke-width="0.7" />
<line x1="224.49" y1="300.30" x2="224.49" y2="302.10" stroke="#151515" stroke-width="0.7" />
<line x1="172.84" y1="300.30" x2="172.84" y2="302.10" stroke="#151515" stroke-width="0.7" />
<line x1="176.19" y1="300.30" x2="176.19" y2="302.10" stroke="#151515" stroke-width="0.7" />
<line x1="178.88" y1="300.30" x2="178.88" y2="302.10" stroke="#151515" stroke-width="0.7" />
<line x1="184.92" y1="300.30" x2="184.92" y2="302.10" stroke="#151515" stroke-width="0.7" />
<line x1="187.60" y1="300.30" x2="187.60" y2="302.10" stroke="#151515" stroke-width="0.7" />
<rect x="180.90" y="299.70" width="2.40" height="2.60" fill="#111" stroke="none" stroke-width="1" />
<text x="170.42" y="313.60" font-size="6.9" text-anchor="middle" fill="#050505">-10<tspan font-size="4.6" dy="-2.9">3</tspan></text>
<text x="183.11" y="313.60" font-size="6.9" text-anchor="middle" font-weight="normal" fill="#050505" >0</text>
<text x="191.72" y="313.60" font-size="6.9" text-anchor="middle" fill="#050505">10<tspan font-size="4.6" dy="-2.9">3</tspan></text>
<text x="211.18" y="313.60" font-size="6.9" text-anchor="middle" fill="#050505">10<tspan font-size="4.6" dy="-2.9">4</tspan></text>
<text x="226.28" y="313.60" font-size="6.9" text-anchor="middle" fill="#050505">10<tspan font-size="4.6" dy="-2.9">5</tspan></text>
<text transform="translate(143.20,266.50) rotate(-90) scale(0.77,1)" x="0" y="0" font-size="10.8" text-anchor="middle" fill="#050505">Count</text>
<path d="M58.00,393.20 L58.92,393.19 L60.24,393.17 L61.78,393.15 L63.37,393.12 L64.83,393.07 L66.00,393.00 L66.86,392.95 L67.55,392.94 L68.11,392.91 L68.60,392.81 L69.04,392.59 L69.50,392.20 L69.94,391.47 L70.33,390.41 L70.68,389.24 L71.01,388.14 L71.34,387.33 L71.70,387.00 L72.07,387.29 L72.43,388.07 L72.80,389.12 L73.18,390.27 L73.58,391.29 L74.00,392.00 L74.42,392.39 L74.84,392.64 L75.27,392.76 L75.75,392.81 L76.32,392.81 L77.00,392.80 L77.83,392.77 L78.78,392.68 L79.81,392.54 L80.89,392.38 L81.97,392.19 L83.00,392.00 L84.02,391.81 L85.06,391.63 L86.09,391.42 L87.11,391.17 L88.09,390.87 L89.00,390.50 L89.86,390.10 L90.70,389.69 L91.49,389.22 L92.23,388.65 L92.90,387.92 L93.50,387.00 L94.01,385.94 L94.43,384.80 L94.79,383.50 L95.10,381.98 L95.40,380.17 L95.70,378.00 L95.99,375.39 L96.25,372.39 L96.49,369.09 L96.73,365.61 L96.96,362.05 L97.20,358.50 L97.45,354.73 L97.71,350.60 L97.96,346.39 L98.21,342.37 L98.46,338.82 L98.70,336.00 L98.93,333.88 L99.14,332.23 L99.36,331.05 L99.57,330.32 L99.78,330.04 L100.00,330.20 L100.23,330.84 L100.46,331.99 L100.69,333.58 L100.93,335.57 L101.17,337.89 L101.40,340.50 L101.63,343.60 L101.86,347.26 L102.09,351.27 L102.33,355.38 L102.56,359.37 L102.80,363.00 L103.04,366.36 L103.28,369.67 L103.52,372.84 L103.77,375.83 L104.03,378.57 L104.30,381.00 L104.59,383.09 L104.89,384.89 L105.20,386.43 L105.52,387.77 L105.86,388.95 L106.20,390.00 L106.55,390.89 L106.89,391.58 L107.25,392.10 L107.63,392.50 L108.04,392.82 L108.50,393.10 L109.05,393.30 L109.71,393.39 L110.39,393.39 L111.05,393.36 L111.61,393.31 L112.00,393.30 L112.00,393.20 L58.00,393.20 Z" fill="rgba(214,74,70,0.64)" stroke="none"/>
<path d="M58.00,393.20 L58.92,393.18 L60.24,393.16 L61.78,393.12 L63.37,393.09 L64.83,393.05 L66.00,393.00 L66.86,392.96 L67.55,392.94 L68.11,392.92 L68.60,392.87 L69.04,392.77 L69.50,392.60 L69.94,392.30 L70.33,391.87 L70.68,391.39 L71.01,390.95 L71.34,390.63 L71.70,390.50 L72.03,390.63 L72.32,390.97 L72.61,391.42 L72.96,391.90 L73.40,392.32 L74.00,392.60 L74.75,392.73 L75.61,392.79 L76.58,392.78 L77.64,392.74 L78.78,392.67 L80.00,392.60 L81.36,392.58 L82.89,392.60 L84.50,392.59 L86.11,392.50 L87.64,392.26 L89.00,391.80 L90.21,391.13 L91.33,390.32 L92.38,389.35 L93.33,388.23 L94.21,386.94 L95.00,385.50 L95.67,383.83 L96.22,381.92 L96.69,379.86 L97.11,377.71 L97.53,375.57 L98.00,373.50 L98.50,371.43 L99.01,369.29 L99.52,367.14 L100.02,365.07 L100.52,363.16 L101.00,361.50 L101.47,360.00 L101.94,358.60 L102.41,357.36 L102.86,356.34 L103.29,355.64 L103.70,355.30 L104.09,355.37 L104.45,355.79 L104.80,356.51 L105.14,357.49 L105.47,358.67 L105.80,360.00 L106.12,361.56 L106.43,363.40 L106.74,365.45 L107.04,367.62 L107.36,369.83 L107.70,372.00 L108.06,374.24 L108.42,376.62 L108.80,379.05 L109.19,381.41 L109.59,383.60 L110.00,385.50 L110.42,387.14 L110.85,388.61 L111.29,389.91 L111.74,391.02 L112.21,391.95 L112.70,392.70 L113.25,393.19 L113.88,393.41 L114.52,393.45 L115.12,393.39 L115.63,393.31 L116.00,393.30 L116.00,393.20 L58.00,393.20 Z" fill="rgba(160,170,215,0.45)" stroke="none"/>
<path d="M58.00,393.20 L58.92,393.19 L60.24,393.17 L61.78,393.15 L63.37,393.12 L64.83,393.07 L66.00,393.00 L66.86,392.95 L67.55,392.94 L68.11,392.91 L68.60,392.81 L69.04,392.59 L69.50,392.20 L69.94,391.47 L70.33,390.41 L70.68,389.24 L71.01,388.14 L71.34,387.33 L71.70,387.00 L72.07,387.29 L72.43,388.07 L72.80,389.12 L73.18,390.27 L73.58,391.29 L74.00,392.00 L74.42,392.39 L74.84,392.64 L75.27,392.76 L75.75,392.81 L76.32,392.81 L77.00,392.80 L77.83,392.77 L78.78,392.68 L79.81,392.54 L80.89,392.38 L81.97,392.19 L83.00,392.00 L84.02,391.81 L85.06,391.63 L86.09,391.42 L87.11,391.17 L88.09,390.87 L89.00,390.50 L89.86,390.10 L90.70,389.69 L91.49,389.22 L92.23,388.65 L92.90,387.92 L93.50,387.00 L94.01,385.94 L94.43,384.80 L94.79,383.50 L95.10,381.98 L95.40,380.17 L95.70,378.00 L95.99,375.39 L96.25,372.39 L96.49,369.09 L96.73,365.61 L96.96,362.05 L97.20,358.50 L97.45,354.73 L97.71,350.60 L97.96,346.39 L98.21,342.37 L98.46,338.82 L98.70,336.00 L98.93,333.88 L99.14,332.23 L99.36,331.05 L99.57,330.32 L99.78,330.04 L100.00,330.20 L100.23,330.84 L100.46,331.99 L100.69,333.58 L100.93,335.57 L101.17,337.89 L101.40,340.50 L101.63,343.60 L101.86,347.26 L102.09,351.27 L102.33,355.38 L102.56,359.37 L102.80,363.00 L103.04,366.36 L103.28,369.67 L103.52,372.84 L103.77,375.83 L104.03,378.57 L104.30,381.00 L104.59,383.09 L104.89,384.89 L105.20,386.43 L105.52,387.77 L105.86,388.95 L106.20,390.00 L106.55,390.89 L106.89,391.58 L107.25,392.10 L107.63,392.50 L108.04,392.82 L108.50,393.10 L109.05,393.30 L109.71,393.39 L110.39,393.39 L111.05,393.36 L111.61,393.31 L112.00,393.30" fill="none" stroke="#8F2035" stroke-width="1.3" stroke-linejoin="round"/>
<path d="M58.00,393.20 L58.92,393.18 L60.24,393.16 L61.78,393.12 L63.37,393.09 L64.83,393.05 L66.00,393.00 L66.86,392.96 L67.55,392.94 L68.11,392.92 L68.60,392.87 L69.04,392.77 L69.50,392.60 L69.94,392.30 L70.33,391.87 L70.68,391.39 L71.01,390.95 L71.34,390.63 L71.70,390.50 L72.03,390.63 L72.32,390.97 L72.61,391.42 L72.96,391.90 L73.40,392.32 L74.00,392.60 L74.75,392.73 L75.61,392.79 L76.58,392.78 L77.64,392.74 L78.78,392.67 L80.00,392.60 L81.36,392.58 L82.89,392.60 L84.50,392.59 L86.11,392.50 L87.64,392.26 L89.00,391.80 L90.21,391.13 L91.33,390.32 L92.38,389.35 L93.33,388.23 L94.21,386.94 L95.00,385.50 L95.67,383.83 L96.22,381.92 L96.69,379.86 L97.11,377.71 L97.53,375.57 L98.00,373.50 L98.50,371.43 L99.01,369.29 L99.52,367.14 L100.02,365.07 L100.52,363.16 L101.00,361.50 L101.47,360.00 L101.94,358.60 L102.41,357.36 L102.86,356.34 L103.29,355.64 L103.70,355.30 L104.09,355.37 L104.45,355.79 L104.80,356.51 L105.14,357.49 L105.47,358.67 L105.80,360.00 L106.12,361.56 L106.43,363.40 L106.74,365.45 L107.04,367.62 L107.36,369.83 L107.70,372.00 L108.06,374.24 L108.42,376.62 L108.80,379.05 L109.19,381.41 L109.59,383.60 L110.00,385.50 L110.42,387.14 L110.85,388.61 L111.29,389.91 L111.74,391.02 L112.21,391.95 L112.70,392.70 L113.25,393.19 L113.88,393.41 L114.52,393.45 L115.12,393.39 L115.63,393.31 L116.00,393.30" fill="none" stroke="#303A62" stroke-width="1.3" stroke-linejoin="round"/>
<rect x="54.60" y="325.60" width="68.80" height="68.20" fill="none" stroke="#151515" stroke-width="1.5" />
<line x1="51.40" y1="342.10" x2="54.60" y2="342.10" stroke="#151515" stroke-width="1" />
<text x="48.00" y="344.50" font-size="7.2" text-anchor="end" font-weight="normal" fill="#050505" >300</text>
<line x1="51.40" y1="359.30" x2="54.60" y2="359.30" stroke="#151515" stroke-width="1" />
<text x="48.00" y="361.70" font-size="7.2" text-anchor="end" font-weight="normal" fill="#050505" >200</text>
<line x1="51.40" y1="376.40" x2="54.60" y2="376.40" stroke="#151515" stroke-width="1" />
<text x="48.00" y="378.80" font-size="7.2" text-anchor="end" font-weight="normal" fill="#050505" >100</text>
<line x1="51.40" y1="393.80" x2="54.60" y2="393.80" stroke="#151515" stroke-width="1" />
<text x="48.00" y="396.20" font-size="7.2" text-anchor="end" font-weight="normal" fill="#050505" >0</text>
<line x1="53.00" y1="329.18" x2="54.60" y2="329.18" stroke="#151515" stroke-width="0.8" />
<line x1="53.00" y1="333.48" x2="54.60" y2="333.48" stroke="#151515" stroke-width="0.8" />
<line x1="53.00" y1="337.79" x2="54.60" y2="337.79" stroke="#151515" stroke-width="0.8" />
<line x1="53.00" y1="346.41" x2="54.60" y2="346.41" stroke="#151515" stroke-width="0.8" />
<line x1="53.00" y1="350.72" x2="54.60" y2="350.72" stroke="#151515" stroke-width="0.8" />
<line x1="53.00" y1="355.03" x2="54.60" y2="355.03" stroke="#151515" stroke-width="0.8" />
<line x1="53.00" y1="363.64" x2="54.60" y2="363.64" stroke="#151515" stroke-width="0.8" />
<line x1="53.00" y1="367.95" x2="54.60" y2="367.95" stroke="#151515" stroke-width="0.8" />
<line x1="53.00" y1="372.26" x2="54.60" y2="372.26" stroke="#151515" stroke-width="0.8" />
<line x1="53.00" y1="380.88" x2="54.60" y2="380.88" stroke="#151515" stroke-width="0.8" />
<line x1="53.00" y1="385.18" x2="54.60" y2="385.18" stroke="#151515" stroke-width="0.8" />
<line x1="53.00" y1="389.49" x2="54.60" y2="389.49" stroke="#151515" stroke-width="0.8" />
<line x1="57.70" y1="393.80" x2="57.70" y2="396.80" stroke="#151515" stroke-width="1" />
<line x1="70.08" y1="393.80" x2="70.08" y2="396.80" stroke="#151515" stroke-width="1" />
<line x1="79.02" y1="393.80" x2="79.02" y2="396.80" stroke="#151515" stroke-width="1" />
<line x1="98.98" y1="393.80" x2="98.98" y2="396.80" stroke="#151515" stroke-width="1" />
<line x1="114.46" y1="393.80" x2="114.46" y2="396.80" stroke="#151515" stroke-width="1" />
<line x1="85.03" y1="393.80" x2="85.03" y2="395.60" stroke="#151515" stroke-width="0.7" />
<line x1="88.54" y1="393.80" x2="88.54" y2="395.60" stroke="#151515" stroke-width="0.7" />
<line x1="91.04" y1="393.80" x2="91.04" y2="395.60" stroke="#151515" stroke-width="0.7" />
<line x1="92.97" y1="393.80" x2="92.97" y2="395.60" stroke="#151515" stroke-width="0.7" />
<line x1="94.55" y1="393.80" x2="94.55" y2="395.60" stroke="#151515" stroke-width="0.7" />
<line x1="95.89" y1="393.80" x2="95.89" y2="395.60" stroke="#151515" stroke-width="0.7" />
<line x1="97.04" y1="393.80" x2="97.04" y2="395.60" stroke="#151515" stroke-width="0.7" />
<line x1="98.06" y1="393.80" x2="98.06" y2="395.60" stroke="#151515" stroke-width="0.7" />
<line x1="103.64" y1="393.80" x2="103.64" y2="395.60" stroke="#151515" stroke-width="0.7" />
<line x1="106.36" y1="393.80" x2="106.36" y2="395.60" stroke="#151515" stroke-width="0.7" />
<line x1="108.30" y1="393.80" x2="108.30" y2="395.60" stroke="#151515" stroke-width="0.7" />
<line x1="109.80" y1="393.80" x2="109.80" y2="395.60" stroke="#151515" stroke-width="0.7" />
<line x1="111.02" y1="393.80" x2="111.02" y2="395.60" stroke="#151515" stroke-width="0.7" />
<line x1="112.06" y1="393.80" x2="112.06" y2="395.60" stroke="#151515" stroke-width="0.7" />
<line x1="112.96" y1="393.80" x2="112.96" y2="395.60" stroke="#151515" stroke-width="0.7" />
<line x1="113.75" y1="393.80" x2="113.75" y2="395.60" stroke="#151515" stroke-width="0.7" />
<line x1="60.79" y1="393.80" x2="60.79" y2="395.60" stroke="#151515" stroke-width="0.7" />
<line x1="64.23" y1="393.80" x2="64.23" y2="395.60" stroke="#151515" stroke-width="0.7" />
<line x1="66.98" y1="393.80" x2="66.98" y2="395.60" stroke="#151515" stroke-width="0.7" />
<line x1="73.18" y1="393.80" x2="73.18" y2="395.60" stroke="#151515" stroke-width="0.7" />
<line x1="75.93" y1="393.80" x2="75.93" y2="395.60" stroke="#151515" stroke-width="0.7" />
<rect x="69.09" y="393.20" width="2.40" height="2.60" fill="#111" stroke="none" stroke-width="1" />
<text x="58.30" y="407.10" font-size="6.9" text-anchor="middle" fill="#050505">-10<tspan font-size="4.6" dy="-2.9">3</tspan></text>
<text x="71.32" y="407.10" font-size="6.9" text-anchor="middle" font-weight="normal" fill="#050505" >0</text>
<text x="80.12" y="407.10" font-size="6.9" text-anchor="middle" fill="#050505">10<tspan font-size="4.6" dy="-2.9">3</tspan></text>
<text x="100.08" y="407.10" font-size="6.9" text-anchor="middle" fill="#050505">10<tspan font-size="4.6" dy="-2.9">4</tspan></text>
<text x="115.56" y="407.10" font-size="6.9" text-anchor="middle" fill="#050505">10<tspan font-size="4.6" dy="-2.9">5</tspan></text>
<text transform="translate(31.00,359.70) rotate(-90) scale(0.77,1)" x="0" y="0" font-size="10.8" text-anchor="middle" fill="#050505">Count</text>
<path d="M170.00,392.90 L170.88,392.71 L172.09,392.45 L173.53,392.14 L175.07,391.81 L176.60,391.49 L178.00,391.20 L179.28,390.95 L180.54,390.73 L181.78,390.51 L183.02,390.28 L184.26,390.02 L185.50,389.70 L186.79,389.34 L188.14,388.96 L189.49,388.54 L190.78,388.08 L191.97,387.57 L193.00,387.00 L193.84,386.39 L194.54,385.74 L195.13,385.05 L195.66,384.29 L196.17,383.44 L196.70,382.50 L197.25,381.49 L197.78,380.44 L198.29,379.31 L198.78,378.06 L199.25,376.63 L199.70,375.00 L200.12,373.06 L200.52,370.83 L200.90,368.44 L201.27,366.00 L201.63,363.65 L202.00,361.50 L202.37,359.63 L202.74,357.94 L203.10,356.34 L203.46,354.72 L203.83,352.98 L204.20,351.00 L204.59,348.62 L205.00,345.89 L205.41,343.03 L205.81,340.28 L206.18,337.86 L206.50,336.00 L206.77,334.75 L206.99,333.94 L207.18,333.47 L207.36,333.22 L207.52,333.10 L207.70,333.00 L207.87,332.87 L208.03,332.78 L208.18,332.81 L208.34,333.06 L208.51,333.59 L208.70,334.50 L208.92,335.89 L209.16,337.72 L209.42,339.84 L209.68,342.11 L209.94,344.38 L210.20,346.50 L210.45,348.50 L210.70,350.50 L210.95,352.50 L211.20,354.50 L211.45,356.50 L211.70,358.50 L211.95,360.50 L212.20,362.50 L212.45,364.50 L212.70,366.50 L212.95,368.50 L213.20,370.50 L213.45,372.55 L213.70,374.67 L213.95,376.78 L214.20,378.83 L214.45,380.76 L214.70,382.50 L214.94,384.06 L215.17,385.50 L215.40,386.81 L215.64,388.00 L215.90,389.06 L216.20,390.00 L216.52,390.79 L216.86,391.44 L217.22,391.96 L217.61,392.37 L218.04,392.71 L218.50,393.00 L219.05,393.20 L219.71,393.28 L220.39,393.29 L221.05,393.25 L221.61,393.21 L222.00,393.20 L222.00,393.10 L170.00,393.10 Z" fill="rgba(214,74,70,0.64)" stroke="none"/>
<path d="M170.00,393.10 L170.93,393.03 L172.25,392.93 L173.80,392.81 L175.39,392.67 L176.85,392.54 L178.00,392.40 L178.83,392.38 L179.49,392.49 L180.02,392.60 L180.45,392.56 L180.83,392.24 L181.20,391.50 L181.52,389.99 L181.77,387.77 L181.96,385.26 L182.12,382.91 L182.29,381.14 L182.50,380.40 L182.73,380.96 L182.97,382.53 L183.21,384.69 L183.46,387.01 L183.72,389.09 L184.00,390.50 L184.29,391.22 L184.59,391.59 L184.89,391.71 L185.23,391.68 L185.59,391.61 L186.00,391.60 L186.45,391.66 L186.93,391.72 L187.44,391.73 L187.99,391.67 L188.58,391.50 L189.20,391.20 L189.89,390.73 L190.66,390.12 L191.46,389.40 L192.26,388.61 L193.02,387.80 L193.70,387.00 L194.29,386.19 L194.81,385.34 L195.29,384.47 L195.76,383.58 L196.22,382.68 L196.70,381.80 L197.21,380.91 L197.73,380.01 L198.24,379.11 L198.75,378.21 L199.24,377.34 L199.70,376.50 L200.12,375.70 L200.49,374.94 L200.85,374.20 L201.21,373.47 L201.58,372.74 L202.00,372.00 L202.46,371.23 L202.95,370.44 L203.46,369.66 L203.97,368.89 L204.49,368.16 L205.00,367.50 L205.51,366.93 L206.03,366.44 L206.55,366.00 L207.06,365.56 L207.55,365.07 L208.00,364.50 L208.41,363.84 L208.79,363.11 L209.14,362.34 L209.49,361.56 L209.84,360.77 L210.20,360.00 L210.59,359.21 L210.99,358.37 L211.39,357.53 L211.79,356.74 L212.16,356.05 L212.50,355.50 L212.80,355.10 L213.06,354.80 L213.30,354.59 L213.53,354.48 L213.76,354.45 L214.00,354.50 L214.25,354.57 L214.49,354.67 L214.73,354.84 L214.98,355.17 L215.23,355.70 L215.50,356.50 L215.78,357.62 L216.07,359.02 L216.37,360.62 L216.68,362.37 L216.99,364.19 L217.30,366.00 L217.61,367.87 L217.91,369.87 L218.22,371.94 L218.53,374.02 L218.86,376.06 L219.20,378.00 L219.56,379.91 L219.94,381.84 L220.33,383.72 L220.73,385.51 L221.12,387.12 L221.50,388.50 L221.86,389.63 L222.20,390.57 L222.54,391.34 L222.89,391.96 L223.27,392.47 L223.70,392.90 L224.22,393.19 L224.84,393.31 L225.49,393.32 L226.10,393.27 L226.63,393.21 L227.00,393.20 L227.00,393.10 L170.00,393.10 Z" fill="rgba(160,170,215,0.45)" stroke="none"/>
<path d="M170.00,392.90 L170.88,392.71 L172.09,392.45 L173.53,392.14 L175.07,391.81 L176.60,391.49 L178.00,391.20 L179.28,390.95 L180.54,390.73 L181.78,390.51 L183.02,390.28 L184.26,390.02 L185.50,389.70 L186.79,389.34 L188.14,388.96 L189.49,388.54 L190.78,388.08 L191.97,387.57 L193.00,387.00 L193.84,386.39 L194.54,385.74 L195.13,385.05 L195.66,384.29 L196.17,383.44 L196.70,382.50 L197.25,381.49 L197.78,380.44 L198.29,379.31 L198.78,378.06 L199.25,376.63 L199.70,375.00 L200.12,373.06 L200.52,370.83 L200.90,368.44 L201.27,366.00 L201.63,363.65 L202.00,361.50 L202.37,359.63 L202.74,357.94 L203.10,356.34 L203.46,354.72 L203.83,352.98 L204.20,351.00 L204.59,348.62 L205.00,345.89 L205.41,343.03 L205.81,340.28 L206.18,337.86 L206.50,336.00 L206.77,334.75 L206.99,333.94 L207.18,333.47 L207.36,333.22 L207.52,333.10 L207.70,333.00 L207.87,332.87 L208.03,332.78 L208.18,332.81 L208.34,333.06 L208.51,333.59 L208.70,334.50 L208.92,335.89 L209.16,337.72 L209.42,339.84 L209.68,342.11 L209.94,344.38 L210.20,346.50 L210.45,348.50 L210.70,350.50 L210.95,352.50 L211.20,354.50 L211.45,356.50 L211.70,358.50 L211.95,360.50 L212.20,362.50 L212.45,364.50 L212.70,366.50 L212.95,368.50 L213.20,370.50 L213.45,372.55 L213.70,374.67 L213.95,376.78 L214.20,378.83 L214.45,380.76 L214.70,382.50 L214.94,384.06 L215.17,385.50 L215.40,386.81 L215.64,388.00 L215.90,389.06 L216.20,390.00 L216.52,390.79 L216.86,391.44 L217.22,391.96 L217.61,392.37 L218.04,392.71 L218.50,393.00 L219.05,393.20 L219.71,393.28 L220.39,393.29 L221.05,393.25 L221.61,393.21 L222.00,393.20" fill="none" stroke="#8F2035" stroke-width="1.3" stroke-linejoin="round"/>
<path d="M170.00,393.10 L170.93,393.03 L172.25,392.93 L173.80,392.81 L175.39,392.67 L176.85,392.54 L178.00,392.40 L178.83,392.38 L179.49,392.49 L180.02,392.60 L180.45,392.56 L180.83,392.24 L181.20,391.50 L181.52,389.99 L181.77,387.77 L181.96,385.26 L182.12,382.91 L182.29,381.14 L182.50,380.40 L182.73,380.96 L182.97,382.53 L183.21,384.69 L183.46,387.01 L183.72,389.09 L184.00,390.50 L184.29,391.22 L184.59,391.59 L184.89,391.71 L185.23,391.68 L185.59,391.61 L186.00,391.60 L186.45,391.66 L186.93,391.72 L187.44,391.73 L187.99,391.67 L188.58,391.50 L189.20,391.20 L189.89,390.73 L190.66,390.12 L191.46,389.40 L192.26,388.61 L193.02,387.80 L193.70,387.00 L194.29,386.19 L194.81,385.34 L195.29,384.47 L195.76,383.58 L196.22,382.68 L196.70,381.80 L197.21,380.91 L197.73,380.01 L198.24,379.11 L198.75,378.21 L199.24,377.34 L199.70,376.50 L200.12,375.70 L200.49,374.94 L200.85,374.20 L201.21,373.47 L201.58,372.74 L202.00,372.00 L202.46,371.23 L202.95,370.44 L203.46,369.66 L203.97,368.89 L204.49,368.16 L205.00,367.50 L205.51,366.93 L206.03,366.44 L206.55,366.00 L207.06,365.56 L207.55,365.07 L208.00,364.50 L208.41,363.84 L208.79,363.11 L209.14,362.34 L209.49,361.56 L209.84,360.77 L210.20,360.00 L210.59,359.21 L210.99,358.37 L211.39,357.53 L211.79,356.74 L212.16,356.05 L212.50,355.50 L212.80,355.10 L213.06,354.80 L213.30,354.59 L213.53,354.48 L213.76,354.45 L214.00,354.50 L214.25,354.57 L214.49,354.67 L214.73,354.84 L214.98,355.17 L215.23,355.70 L215.50,356.50 L215.78,357.62 L216.07,359.02 L216.37,360.62 L216.68,362.37 L216.99,364.19 L217.30,366.00 L217.61,367.87 L217.91,369.87 L218.22,371.94 L218.53,374.02 L218.86,376.06 L219.20,378.00 L219.56,379.91 L219.94,381.84 L220.33,383.72 L220.73,385.51 L221.12,387.12 L221.50,388.50 L221.86,389.63 L222.20,390.57 L222.54,391.34 L222.89,391.96 L223.27,392.47 L223.70,392.90 L224.22,393.19 L224.84,393.31 L225.49,393.32 L226.10,393.27 L226.63,393.21 L227.00,393.20" fill="none" stroke="#303A62" stroke-width="1.3" stroke-linejoin="round"/>
<rect x="166.80" y="326.60" width="67.10" height="67.10" fill="none" stroke="#151515" stroke-width="1.5" />
<line x1="163.60" y1="337.60" x2="166.80" y2="337.60" stroke="#151515" stroke-width="1" />
<text x="160.20" y="340.00" font-size="7.2" text-anchor="end" font-weight="normal" fill="#050505" >200</text>
<line x1="163.60" y1="351.70" x2="166.80" y2="351.70" stroke="#151515" stroke-width="1" />
<text x="160.20" y="354.10" font-size="7.2" text-anchor="end" font-weight="normal" fill="#050505" >150</text>
<line x1="163.60" y1="365.80" x2="166.80" y2="365.80" stroke="#151515" stroke-width="1" />
<text x="160.20" y="368.20" font-size="7.2" text-anchor="end" font-weight="normal" fill="#050505" >100</text>
<line x1="163.60" y1="379.90" x2="166.80" y2="379.90" stroke="#151515" stroke-width="1" />
<text x="160.20" y="382.30" font-size="7.2" text-anchor="end" font-weight="normal" fill="#050505" >50</text>
<line x1="163.60" y1="393.70" x2="166.80" y2="393.70" stroke="#151515" stroke-width="1" />
<text x="160.20" y="396.10" font-size="7.2" text-anchor="end" font-weight="normal" fill="#050505" >0</text>
<line x1="165.20" y1="330.59" x2="166.80" y2="330.59" stroke="#151515" stroke-width="0.8" />
<line x1="165.20" y1="334.09" x2="166.80" y2="334.09" stroke="#151515" stroke-width="0.8" />
<line x1="165.20" y1="341.11" x2="166.80" y2="341.11" stroke="#151515" stroke-width="0.8" />
<line x1="165.20" y1="344.61" x2="166.80" y2="344.61" stroke="#151515" stroke-width="0.8" />
<line x1="165.20" y1="348.12" x2="166.80" y2="348.12" stroke="#151515" stroke-width="0.8" />
<line x1="165.20" y1="355.13" x2="166.80" y2="355.13" stroke="#151515" stroke-width="0.8" />
<line x1="165.20" y1="358.64" x2="166.80" y2="358.64" stroke="#151515" stroke-width="0.8" />
<line x1="165.20" y1="362.14" x2="166.80" y2="362.14" stroke="#151515" stroke-width="0.8" />
<line x1="165.20" y1="369.16" x2="166.80" y2="369.16" stroke="#151515" stroke-width="0.8" />
<line x1="165.20" y1="372.66" x2="166.80" y2="372.66" stroke="#151515" stroke-width="0.8" />
<line x1="165.20" y1="376.17" x2="166.80" y2="376.17" stroke="#151515" stroke-width="0.8" />
<line x1="165.20" y1="383.18" x2="166.80" y2="383.18" stroke="#151515" stroke-width="0.8" />
<line x1="165.20" y1="386.69" x2="166.80" y2="386.69" stroke="#151515" stroke-width="0.8" />
<line x1="165.20" y1="390.19" x2="166.80" y2="390.19" stroke="#151515" stroke-width="0.8" />
<line x1="169.82" y1="393.70" x2="169.82" y2="396.70" stroke="#151515" stroke-width="1" />
<line x1="181.90" y1="393.70" x2="181.90" y2="396.70" stroke="#151515" stroke-width="1" />
<line x1="190.62" y1="393.70" x2="190.62" y2="396.70" stroke="#151515" stroke-width="1" />
<line x1="210.08" y1="393.70" x2="210.08" y2="396.70" stroke="#151515" stroke-width="1" />
<line x1="225.18" y1="393.70" x2="225.18" y2="396.70" stroke="#151515" stroke-width="1" />
<line x1="196.48" y1="393.70" x2="196.48" y2="395.50" stroke="#151515" stroke-width="0.7" />
<line x1="199.90" y1="393.70" x2="199.90" y2="395.50" stroke="#151515" stroke-width="0.7" />
<line x1="202.34" y1="393.70" x2="202.34" y2="395.50" stroke="#151515" stroke-width="0.7" />
<line x1="204.22" y1="393.70" x2="204.22" y2="395.50" stroke="#151515" stroke-width="0.7" />
<line x1="205.76" y1="393.70" x2="205.76" y2="395.50" stroke="#151515" stroke-width="0.7" />
<line x1="207.07" y1="393.70" x2="207.07" y2="395.50" stroke="#151515" stroke-width="0.7" />
<line x1="208.19" y1="393.70" x2="208.19" y2="395.50" stroke="#151515" stroke-width="0.7" />
<line x1="209.19" y1="393.70" x2="209.19" y2="395.50" stroke="#151515" stroke-width="0.7" />
<line x1="214.62" y1="393.70" x2="214.62" y2="395.50" stroke="#151515" stroke-width="0.7" />
<line x1="217.28" y1="393.70" x2="217.28" y2="395.50" stroke="#151515" stroke-width="0.7" />
<line x1="219.17" y1="393.70" x2="219.17" y2="395.50" stroke="#151515" stroke-width="0.7" />
<line x1="220.63" y1="393.70" x2="220.63" y2="395.50" stroke="#151515" stroke-width="0.7" />
<line x1="221.83" y1="393.70" x2="221.83" y2="395.50" stroke="#151515" stroke-width="0.7" />
<line x1="222.84" y1="393.70" x2="222.84" y2="395.50" stroke="#151515" stroke-width="0.7" />
<line x1="223.71" y1="393.70" x2="223.71" y2="395.50" stroke="#151515" stroke-width="0.7" />
<line x1="224.49" y1="393.70" x2="224.49" y2="395.50" stroke="#151515" stroke-width="0.7" />
<line x1="172.84" y1="393.70" x2="172.84" y2="395.50" stroke="#151515" stroke-width="0.7" />
<line x1="176.19" y1="393.70" x2="176.19" y2="395.50" stroke="#151515" stroke-width="0.7" />
<line x1="178.88" y1="393.70" x2="178.88" y2="395.50" stroke="#151515" stroke-width="0.7" />
<line x1="184.92" y1="393.70" x2="184.92" y2="395.50" stroke="#151515" stroke-width="0.7" />
<line x1="187.60" y1="393.70" x2="187.60" y2="395.50" stroke="#151515" stroke-width="0.7" />
<rect x="180.90" y="393.10" width="2.40" height="2.60" fill="#111" stroke="none" stroke-width="1" />
<text x="170.42" y="407.00" font-size="6.9" text-anchor="middle" fill="#050505">-10<tspan font-size="4.6" dy="-2.9">3</tspan></text>
<text x="183.11" y="407.00" font-size="6.9" text-anchor="middle" font-weight="normal" fill="#050505" >0</text>
<text x="191.72" y="407.00" font-size="6.9" text-anchor="middle" fill="#050505">10<tspan font-size="4.6" dy="-2.9">3</tspan></text>
<text x="211.18" y="407.00" font-size="6.9" text-anchor="middle" fill="#050505">10<tspan font-size="4.6" dy="-2.9">4</tspan></text>
<text x="226.28" y="407.00" font-size="6.9" text-anchor="middle" fill="#050505">10<tspan font-size="4.6" dy="-2.9">5</tspan></text>
<text transform="translate(143.20,360.00) rotate(-90) scale(0.77,1)" x="0" y="0" font-size="10.8" text-anchor="middle" fill="#050505">Count</text>
<line x1="52.50" y1="411.60" x2="227.00" y2="411.60" stroke="#111" stroke-width="1.3" />
<path d="M225.2,408.9 L232.2,411.6 L225.2,414.3 Z" fill="#111"/>
<text transform="translate(142.35,423.2) scale(0.9,1)" x="0" y="0" font-size="9.3" text-anchor="middle" fill="#050505">Lysotracker</text>
<rect x="86.40" y="429.40" width="9.20" height="6.60" fill="#8E9AC8" stroke="#3A4478" stroke-width="0.9" />
<text x="97.70" y="435.60" font-size="7.25" text-anchor="start" font-weight="normal" fill="#050505" >200 nM Apilimod</text>
<rect x="163.10" y="429.40" width="9.20" height="6.60" fill="#E07A7A" stroke="#8E2030" stroke-width="0.9" />
<text x="175.00" y="435.60" font-size="7.25" text-anchor="start" font-weight="normal" fill="#050505" >Control</text>
<defs><filter id="bl1" x="-50%" y="-50%" width="200%" height="200%"><feGaussianBlur stdDeviation="1.2"/></filter><filter id="bl2" x="-50%" y="-50%" width="200%" height="200%"><feGaussianBlur stdDeviation="0.8"/></filter><filter id="bl3" x="-50%" y="-50%" width="200%" height="200%"><feGaussianBlur stdDeviation="2.0"/></filter><filter id="noise" x="0" y="0" width="100%" height="100%"><feTurbulence type="fractalNoise" baseFrequency="0.9" numOctaves="2" seed="3"/><feColorMatrix type="matrix" values="0 0 0 0 0.3  0 0 0 0 0.3  0 0 0 0 0.3  1.6 0 0 0 -0.55"/></filter></defs>
<text x="388.50" y="227.80" font-size="8.1" text-anchor="end" font-weight="bold" fill="#111" >Apilimod</text>
<text x="409.70" y="219.30" font-size="8.1" text-anchor="middle" font-weight="bold" fill="#111" >Total</text>
<text x="448.90" y="218.30" font-size="8.1" text-anchor="middle" font-weight="bold" fill="#111" >Cytoplasm</text>
<text x="492.30" y="218.40" font-size="8.1" text-anchor="middle" font-weight="bold" fill="#111" >Nucleus</text>
<line x1="397.30" y1="221.70" x2="424.60" y2="221.70" stroke="#222" stroke-width="1.1" />
<line x1="436.40" y1="221.70" x2="464.40" y2="221.70" stroke="#222" stroke-width="1.1" />
<line x1="477.00" y1="221.70" x2="505.40" y2="221.70" stroke="#222" stroke-width="1.1" />
<text x="402.00" y="230.60" font-size="8" text-anchor="middle" font-weight="normal" fill="#222" >-</text>
<text x="421.00" y="230.60" font-size="8" text-anchor="middle" font-weight="normal" fill="#222" >+</text>
<text x="438.00" y="230.60" font-size="8" text-anchor="middle" font-weight="normal" fill="#222" >-</text>
<text x="459.10" y="230.60" font-size="8" text-anchor="middle" font-weight="normal" fill="#222" >+</text>
<text x="480.30" y="230.60" font-size="8" text-anchor="middle" font-weight="normal" fill="#222" >-</text>
<text x="499.00" y="230.60" font-size="8" text-anchor="middle" font-weight="normal" fill="#222" >+</text>
<rect x="392.40" y="235.00" width="119.00" height="27.40" fill="#EEEEEE" stroke="none" stroke-width="1" />
<g clip-path="url(#cl1)">
<clipPath id="cl1"><rect x="393" y="236" width="118" height="25.6"/></clipPath>
<rect x="394.95" y="241.40" width="12.50" height="14.00" rx="2.00" fill="#8a8a8a" opacity="1.0" filter="url(#bl1)"/>
<rect x="395.45" y="243.80" width="11.50" height="5.00" rx="2.00" fill="#5e5e5e" opacity="1.0" filter="url(#bl1)"/>
<rect x="395.45" y="249.60" width="11.50" height="4.00" rx="2.00" fill="#6a6a6a" opacity="1.0" filter="url(#bl1)"/>
<rect x="412.00" y="243.00" width="14.00" height="7.00" rx="2.00" fill="#cfcfcf" opacity="1.0" filter="url(#bl1)"/>
<rect x="411.80" y="249.10" width="15.00" height="6.40" rx="2.00" fill="#0e0e0e" opacity="1.0" filter="url(#bl2)"/>
<rect x="431.65" y="241.00" width="13.50" height="12.00" rx="2.00" fill="#6a6a6a" opacity="1.0" filter="url(#bl1)"/>
<rect x="432.40" y="243.80" width="12.00" height="6.00" rx="2.00" fill="#3a3a3a" opacity="1.0" filter="url(#bl1)"/>
<rect x="452.35" y="248.05" width="14.50" height="6.50" rx="2.00" fill="#c0c0c0" opacity="1.0" filter="url(#bl1)"/>
<rect x="473.35" y="248.05" width="14.50" height="6.50" rx="2.00" fill="#c8c8c8" opacity="1.0" filter="url(#bl1)"/>
<rect x="494.35" y="250.50" width="14.50" height="4.60" rx="2.00" fill="#505050" opacity="1.0" filter="url(#bl1)"/>
<rect x="503.00" y="251.60" width="5.00" height="3.40" rx="1.70" fill="#303030" opacity="1.0" filter="url(#bl2)"/>
</g>
<rect x="392.40" y="235.00" width="119.00" height="27.40" fill="none" stroke="#0a0a0a" stroke-width="1.9" />
<rect x="392.40" y="268.00" width="119.00" height="19.60" fill="#F2F2F2" stroke="none" stroke-width="1" />
<rect x="395.20" y="279.00" width="12.80" height="2.80" rx="1.00" fill="#333333" opacity="1.0" filter="url(#bl2)"/>
<rect x="412.80" y="278.55" width="12.80" height="2.90" rx="1.00" fill="#303030" opacity="1.0" filter="url(#bl2)"/>
<path d="M431.5,277.8 Q438,274.5 446,275.3 L446,278.6 Q438,277.9 431.5,281.0 Z" fill="#505050" filter="url(#bl2)"/>
<path d="M452.5,277.6 Q460,277 467.6,279.3 L467.6,282.4 Q460,280.2 452.5,280.8 Z" fill="#6a6a6a" filter="url(#bl2)"/>
<rect x="392.40" y="268.00" width="119.00" height="19.60" fill="none" stroke="#0a0a0a" stroke-width="1.9" />
<defs><linearGradient id="b3g" x1="0" x2="1" y1="0" y2="0"><stop offset="0" stop-color="#E8E8E8"/><stop offset="0.3" stop-color="#DADADA"/><stop offset="0.8" stop-color="#D6D6D6"/><stop offset="1" stop-color="#C4C4C4"/></linearGradient></defs>
<rect x="392.40" y="292.80" width="119.00" height="18.80" fill="url(#b3g)" stroke="none" stroke-width="1" />
<rect x="392.40" y="292.80" width="119.00" height="18.80" fill="#000" stroke="none" stroke-width="1" filter="url(#noise)" opacity="0.35"/>
<rect x="395.15" y="299.30" width="12.50" height="2.20" rx="1.00" fill="#8a8a8a" opacity="1.0" filter="url(#bl2)"/>
<rect x="395.15" y="306.60" width="12.50" height="2.80" rx="1.00" fill="#2a2a2a" opacity="1.0" filter="url(#bl2)"/>
<rect x="412.35" y="298.90" width="14.50" height="2.60" rx="1.00" fill="#474747" opacity="1.0" filter="url(#bl2)"/>
<rect x="411.60" y="305.50" width="16.00" height="4.40" rx="1.50" fill="#060606" opacity="1.0" filter="url(#bl2)"/>
<rect x="471.70" y="306.10" width="13.80" height="2.60" rx="1.00" fill="#404040" opacity="1.0" filter="url(#bl2)"/>
<rect x="491.70" y="306.00" width="15.00" height="2.80" rx="1.00" fill="#383838" opacity="1.0" filter="url(#bl2)"/>
<rect x="392.40" y="292.80" width="119.00" height="18.80" fill="none" stroke="#0a0a0a" stroke-width="1.9" />
<text x="374.60" y="249.20" font-size="8.45" text-anchor="end" font-weight="normal" fill="#050505" >phospho-TFEB</text>
<text x="374.60" y="257.70" font-size="8.45" text-anchor="end" font-weight="normal" fill="#050505" >dephospho-TFEB</text>
<line x1="377.60" y1="248.00" x2="386.00" y2="248.00" stroke="#111" stroke-width="1.1" />
<path d="M384.6,245.70 L389.9,248.00 L384.6,250.30 Z" fill="#111"/>
<line x1="377.60" y1="253.90" x2="386.00" y2="253.90" stroke="#111" stroke-width="1.1" />
<path d="M384.6,251.60 L389.9,253.90 L384.6,256.20 Z" fill="#111"/>
<text x="386.6" y="279.8" font-size="8.3" text-anchor="end" fill="#050505"><tspan font-family="Liberation Serif" font-style="italic" font-size="9">&#945;</tspan>-Tubulin</text>
<text x="387.00" y="306.20" font-size="8.3" text-anchor="end" font-weight="normal" fill="#050505" >Lamin A/C</text>
<line x1="345.50" y1="333.20" x2="345.50" y2="444.00" stroke="#111" stroke-width="1.4" />
<line x1="344.80" y1="443.40" x2="512.80" y2="443.40" stroke="#111" stroke-width="1.4" />
<line x1="342.40" y1="443.30" x2="345.50" y2="443.30" stroke="#111" stroke-width="1.1" />
<text x="339.20" y="446.25" font-size="8.2" text-anchor="end" font-weight="normal" fill="#050505" >0</text>
<line x1="342.40" y1="433.20" x2="345.50" y2="433.20" stroke="#111" stroke-width="1.1" />
<text x="339.20" y="436.15" font-size="8.2" text-anchor="end" font-weight="normal" fill="#050505" >10</text>
<line x1="342.40" y1="423.10" x2="345.50" y2="423.10" stroke="#111" stroke-width="1.1" />
<text x="339.20" y="426.05" font-size="8.2" text-anchor="end" font-weight="normal" fill="#050505" >20</text>
<line x1="342.40" y1="413.00" x2="345.50" y2="413.00" stroke="#111" stroke-width="1.1" />
<text x="339.20" y="415.95" font-size="8.2" text-anchor="end" font-weight="normal" fill="#050505" >30</text>
<line x1="342.40" y1="402.90" x2="345.50" y2="402.90" stroke="#111" stroke-width="1.1" />
<text x="339.20" y="405.85" font-size="8.2" text-anchor="end" font-weight="normal" fill="#050505" >40</text>
<line x1="342.40" y1="392.80" x2="345.50" y2="392.80" stroke="#111" stroke-width="1.1" />
<text x="339.20" y="395.75" font-size="8.2" text-anchor="end" font-weight="normal" fill="#050505" >50</text>
<line x1="342.40" y1="382.70" x2="345.50" y2="382.70" stroke="#111" stroke-width="1.1" />
<text x="339.20" y="385.65" font-size="8.2" text-anchor="end" font-weight="normal" fill="#050505" >60</text>
<line x1="342.40" y1="372.60" x2="345.50" y2="372.60" stroke="#111" stroke-width="1.1" />
<text x="339.20" y="375.55" font-size="8.2" text-anchor="end" font-weight="normal" fill="#050505" >70</text>
<line x1="342.40" y1="362.50" x2="345.50" y2="362.50" stroke="#111" stroke-width="1.1" />
<text x="339.20" y="365.45" font-size="8.2" text-anchor="end" font-weight="normal" fill="#050505" >80</text>
<line x1="342.40" y1="352.40" x2="345.50" y2="352.40" stroke="#111" stroke-width="1.1" />
<text x="339.20" y="355.35" font-size="8.2" text-anchor="end" font-weight="normal" fill="#050505" >90</text>
<line x1="342.40" y1="342.30" x2="345.50" y2="342.30" stroke="#111" stroke-width="1.1" />
<text x="339.20" y="345.25" font-size="8.2" text-anchor="end" font-weight="normal" fill="#050505" >100</text>
<line x1="345.50" y1="443.40" x2="345.50" y2="446.60" stroke="#111" stroke-width="1.1" />
<text x="345.80" y="457.00" font-size="8.1" text-anchor="middle" font-weight="normal" fill="#050505" >1</text>
<line x1="397.25" y1="443.40" x2="397.25" y2="446.60" stroke="#111" stroke-width="1.1" />
<text x="397.55" y="457.00" font-size="8.1" text-anchor="middle" font-weight="normal" fill="#050505" >10</text>
<line x1="449.00" y1="443.40" x2="449.00" y2="446.60" stroke="#111" stroke-width="1.1" />
<text x="449.30" y="457.00" font-size="8.1" text-anchor="middle" font-weight="normal" fill="#050505" >100</text>
<line x1="500.75" y1="443.40" x2="500.75" y2="446.60" stroke="#111" stroke-width="1.1" />
<text x="501.05" y="457.00" font-size="8.1" text-anchor="middle" font-weight="normal" fill="#050505" >1000</text>
<text x="429.10" y="472.80" font-size="9.8" text-anchor="middle" font-weight="normal" fill="#050505" >Apilimod (nM)</text>
<text transform="translate(318.4,388.0) rotate(-90)" x="0" y="0" font-size="9.8" text-anchor="middle" fill="#050505">Cell viability (%)</text>
<path d="M345.50,342.02 L346.54,342.05 L347.57,342.07 L348.61,342.10 L349.64,342.13 L350.68,342.16 L351.71,342.19 L352.75,342.22 L353.78,342.25 L354.81,342.28 L355.85,342.32 L356.88,342.35 L357.92,342.39 L358.95,342.43 L359.99,342.47 L361.02,342.51 L362.06,342.55 L363.10,342.59 L364.13,342.64 L365.17,342.68 L366.20,342.73 L367.24,342.78 L368.27,342.83 L369.31,342.89 L370.34,342.94 L371.38,343.00 L372.41,343.06 L373.44,343.12 L374.48,343.18 L375.51,343.24 L376.55,343.31 L377.59,343.38 L378.62,343.45 L379.66,343.53 L380.69,343.60 L381.73,343.68 L382.76,343.76 L383.80,343.84 L384.83,343.93 L385.87,344.02 L386.90,344.11 L387.94,344.21 L388.97,344.31 L390.00,344.41 L391.04,344.51 L392.08,344.62 L393.11,344.73 L394.15,344.85 L395.18,344.96 L396.22,345.09 L397.25,345.21 L398.29,345.34 L399.32,345.48 L400.36,345.62 L401.39,345.76 L402.43,345.91 L403.46,346.06 L404.50,346.21 L405.53,346.37 L406.57,346.54 L407.60,346.71 L408.64,346.88 L409.67,347.07 L410.71,347.25 L411.74,347.44 L412.78,347.64 L413.81,347.84 L414.85,348.05 L415.88,348.27 L416.92,348.49 L417.95,348.71 L418.99,348.95 L420.02,349.19 L421.06,349.43 L422.09,349.68 L423.13,349.94 L424.16,350.21 L425.20,350.48 L426.23,350.76 L427.27,351.05 L428.30,351.35 L429.34,351.65 L430.37,351.96 L431.41,352.28 L432.44,352.60 L433.48,352.93 L434.51,353.28 L435.55,353.62 L436.58,353.98 L437.62,354.35 L438.65,354.72 L439.69,355.10 L440.72,355.49 L441.76,355.89 L442.79,356.29 L443.83,356.71 L444.86,357.13 L445.90,357.56 L446.93,358.00 L447.97,358.44 L449.00,358.90 L450.04,359.36 L451.07,359.83 L452.11,360.31 L453.14,360.80 L454.18,361.29 L455.21,361.79 L456.25,362.30 L457.28,362.82 L458.32,363.34 L459.35,363.87 L460.39,364.41 L461.42,364.96 L462.46,365.51 L463.49,366.06 L464.53,366.63 L465.56,367.20 L466.60,367.77 L467.63,368.35 L468.67,368.93 L469.70,369.52 L470.74,370.12 L471.77,370.71 L472.81,371.31 L473.84,371.92 L474.88,372.53 L475.91,373.14 L476.95,373.75 L477.98,374.36 L479.02,374.98 L480.05,375.60 L481.09,376.22 L482.12,376.83 L483.16,377.45 L484.19,378.07 L485.23,378.69 L486.26,379.31 L487.30,379.93 L488.33,380.54 L489.37,381.15 L490.40,381.76 L491.44,382.37 L492.47,382.97 L493.51,383.58 L494.54,384.17 L495.58,384.77 L496.61,385.36 L497.65,385.94 L498.68,386.52 L499.72,387.09 L500.75,387.66 L501.79,388.23 L502.82,388.78 L503.86,389.33 L504.89,389.88 L505.93,390.42 L506.96,390.95 L508.00,391.47 L509.03,391.99 L510.07,392.50 L511.10,393.00" fill="none" stroke="#A3123A" stroke-width="1.9" stroke-linecap="round"/>
<path d="M345.50,343.64 L346.54,343.77 L347.57,343.91 L348.61,344.05 L349.64,344.21 L350.68,344.37 L351.71,344.54 L352.75,344.71 L353.78,344.90 L354.81,345.10 L355.85,345.31 L356.88,345.53 L357.92,345.76 L358.95,346.00 L359.99,346.25 L361.02,346.52 L362.06,346.80 L363.10,347.10 L364.13,347.41 L365.17,347.73 L366.20,348.07 L367.24,348.43 L368.27,348.81 L369.31,349.20 L370.34,349.62 L371.38,350.05 L372.41,350.50 L373.44,350.98 L374.48,351.47 L375.51,351.99 L376.55,352.53 L377.59,353.10 L378.62,353.69 L379.66,354.31 L380.69,354.95 L381.73,355.62 L382.76,356.31 L383.80,357.03 L384.83,357.78 L385.87,358.56 L386.90,359.37 L387.94,360.21 L388.97,361.08 L390.00,361.98 L391.04,362.91 L392.08,363.87 L393.11,364.86 L394.15,365.88 L395.18,366.93 L396.22,368.00 L397.25,369.11 L398.29,370.25 L399.32,371.41 L400.36,372.60 L401.39,373.82 L402.43,375.06 L403.46,376.33 L404.50,377.62 L405.53,378.93 L406.57,380.26 L407.60,381.61 L408.64,382.97 L409.67,384.35 L410.71,385.74 L411.74,387.14 L412.78,388.55 L413.81,389.97 L414.85,391.39 L415.88,392.81 L416.92,394.23 L417.95,395.66 L418.99,397.07 L420.02,398.48 L421.06,399.88 L422.09,401.27 L423.13,402.65 L424.16,404.02 L425.20,405.36 L426.23,406.69 L427.27,408.00 L428.30,409.29 L429.34,410.56 L430.37,411.80 L431.41,413.02 L432.44,414.21 L433.48,415.37 L434.51,416.51 L435.55,417.61 L436.58,418.69 L437.62,419.74 L438.65,420.76 L439.69,421.75 L440.72,422.71 L441.76,423.64 L442.79,424.53 L443.83,425.40 L444.86,426.24 L445.90,427.05 L446.93,427.83 L447.97,428.58 L449.00,429.30 L450.04,430.00 L451.07,430.66 L452.11,431.30 L453.14,431.92 L454.18,432.51 L455.21,433.07 L456.25,433.62 L457.28,434.13 L458.32,434.63 L459.35,435.10 L460.39,435.56 L461.42,435.99 L462.46,436.40 L463.49,436.80 L464.53,437.17 L465.56,437.53 L466.60,437.87 L467.63,438.20 L468.67,438.51 L469.70,438.80 L470.74,439.08 L471.77,439.35 L472.81,439.61 L473.84,439.85 L474.88,440.08 L475.91,440.30 L476.95,440.50 L477.98,440.70 L479.02,440.89 L480.05,441.07 L481.09,441.24 L482.12,441.40 L483.16,441.55 L484.19,441.69 L485.23,441.83 L486.26,441.96 L487.30,442.09 L488.33,442.20 L489.37,442.31 L490.40,442.42 L491.44,442.52 L492.47,442.61 L493.51,442.70 L494.54,442.79 L495.58,442.87 L496.61,442.95 L497.65,443.02 L498.68,443.09 L499.72,443.15 L500.75,443.21 L501.79,443.27 L502.82,443.33 L503.86,443.38 L504.89,443.43 L505.93,443.48 L506.96,443.52 L508.00,443.56 L509.03,443.60 L510.07,443.64 L511.10,443.68" fill="none" stroke="#222E58" stroke-width="1.9" stroke-linecap="round"/>
<line x1="348.60" y1="336.10" x2="348.60" y2="345.70" stroke="#A3123A" stroke-width="1.0" />
<line x1="346.80" y1="336.10" x2="350.40" y2="336.10" stroke="#A3123A" stroke-width="1.0" />
<line x1="346.80" y1="345.70" x2="350.40" y2="345.70" stroke="#A3123A" stroke-width="1.0" />
<rect x="346.50" y="338.80" width="4.20" height="4.20" fill="#AE1440" stroke="none" stroke-width="1" />
<line x1="373.40" y1="331.60" x2="373.40" y2="336.80" stroke="#A3123A" stroke-width="1.0" />
<line x1="371.60" y1="331.60" x2="375.20" y2="331.60" stroke="#A3123A" stroke-width="1.0" />
<line x1="371.60" y1="336.80" x2="375.20" y2="336.80" stroke="#A3123A" stroke-width="1.0" />
<rect x="371.30" y="332.10" width="4.20" height="4.20" fill="#AE1440" stroke="none" stroke-width="1" />
<line x1="398.00" y1="335.00" x2="398.00" y2="341.40" stroke="#A3123A" stroke-width="1.0" />
<line x1="396.20" y1="335.00" x2="399.80" y2="335.00" stroke="#A3123A" stroke-width="1.0" />
<line x1="396.20" y1="341.40" x2="399.80" y2="341.40" stroke="#A3123A" stroke-width="1.0" />
<rect x="395.90" y="336.10" width="4.20" height="4.20" fill="#AE1440" stroke="none" stroke-width="1" />
<line x1="422.80" y1="348.40" x2="422.80" y2="351.20" stroke="#A3123A" stroke-width="1.0" />
<line x1="421.00" y1="348.40" x2="424.60" y2="348.40" stroke="#A3123A" stroke-width="1.0" />
<line x1="421.00" y1="351.20" x2="424.60" y2="351.20" stroke="#A3123A" stroke-width="1.0" />
<rect x="420.70" y="347.70" width="4.20" height="4.20" fill="#AE1440" stroke="none" stroke-width="1" />
<line x1="447.90" y1="361.80" x2="447.90" y2="365.80" stroke="#A3123A" stroke-width="1.0" />
<line x1="446.10" y1="361.80" x2="449.70" y2="361.80" stroke="#A3123A" stroke-width="1.0" />
<line x1="446.10" y1="365.80" x2="449.70" y2="365.80" stroke="#A3123A" stroke-width="1.0" />
<rect x="445.80" y="361.70" width="4.20" height="4.20" fill="#AE1440" stroke="none" stroke-width="1" />
<line x1="472.50" y1="368.00" x2="472.50" y2="374.00" stroke="#A3123A" stroke-width="1.0" />
<line x1="470.70" y1="368.00" x2="474.30" y2="368.00" stroke="#A3123A" stroke-width="1.0" />
<line x1="470.70" y1="374.00" x2="474.30" y2="374.00" stroke="#A3123A" stroke-width="1.0" />
<rect x="470.40" y="368.90" width="4.20" height="4.20" fill="#AE1440" stroke="none" stroke-width="1" />
<line x1="497.30" y1="383.00" x2="497.30" y2="386.60" stroke="#A3123A" stroke-width="1.0" />
<line x1="495.50" y1="383.00" x2="499.10" y2="383.00" stroke="#A3123A" stroke-width="1.0" />
<line x1="495.50" y1="386.60" x2="499.10" y2="386.60" stroke="#A3123A" stroke-width="1.0" />
<rect x="495.20" y="382.70" width="4.20" height="4.20" fill="#AE1440" stroke="none" stroke-width="1" />
<line x1="348.60" y1="341.20" x2="348.60" y2="349.20" stroke="#222E58" stroke-width="1.0" />
<line x1="346.80" y1="341.20" x2="350.40" y2="341.20" stroke="#222E58" stroke-width="1.0" />
<line x1="346.80" y1="349.20" x2="350.40" y2="349.20" stroke="#222E58" stroke-width="1.0" />
<path d="M346.30,347.00 L348.60,343.00 L350.90,347.00 Z" fill="#2A3868"/>
<line x1="373.40" y1="344.40" x2="373.40" y2="358.40" stroke="#222E58" stroke-width="1.0" />
<line x1="371.60" y1="344.40" x2="375.20" y2="344.40" stroke="#222E58" stroke-width="1.0" />
<line x1="371.60" y1="358.40" x2="375.20" y2="358.40" stroke="#222E58" stroke-width="1.0" />
<path d="M371.10,353.20 L373.40,349.20 L375.70,353.20 Z" fill="#2A3868"/>
<line x1="398.00" y1="364.80" x2="398.00" y2="370.80" stroke="#222E58" stroke-width="1.0" />
<line x1="396.20" y1="364.80" x2="399.80" y2="364.80" stroke="#222E58" stroke-width="1.0" />
<line x1="396.20" y1="370.80" x2="399.80" y2="370.80" stroke="#222E58" stroke-width="1.0" />
<path d="M395.70,369.60 L398.00,365.60 L400.30,369.60 Z" fill="#2A3868"/>
<line x1="422.80" y1="403.20" x2="422.80" y2="408.00" stroke="#222E58" stroke-width="1.0" />
<line x1="421.00" y1="403.20" x2="424.60" y2="403.20" stroke="#222E58" stroke-width="1.0" />
<line x1="421.00" y1="408.00" x2="424.60" y2="408.00" stroke="#222E58" stroke-width="1.0" />
<path d="M420.50,407.40 L422.80,403.40 L425.10,407.40 Z" fill="#2A3868"/>
<line x1="447.90" y1="427.00" x2="447.90" y2="429.40" stroke="#222E58" stroke-width="1.0" />
<line x1="446.10" y1="427.00" x2="449.70" y2="427.00" stroke="#222E58" stroke-width="1.0" />
<line x1="446.10" y1="429.40" x2="449.70" y2="429.40" stroke="#222E58" stroke-width="1.0" />
<path d="M445.60,430.00 L447.90,426.00 L450.20,430.00 Z" fill="#2A3868"/>
<path d="M470.20,437.20 L472.50,433.20 L474.80,437.20 Z" fill="#2A3868"/>
<path d="M495.00,434.60 L497.30,430.60 L499.60,434.60 Z" fill="#2A3868"/>
<rect x="480.10" y="339.10" width="3.60" height="3.20" fill="#8E1A3A" stroke="none" stroke-width="1" />
<path d="M480.1,354.7 L482.0,351.5 L483.9,354.7 Z" fill="#2C3566"/>
<text transform="translate(486.9,343.7) scale(0.94,1)" x="0" y="0" font-size="8.7" fill="#050505">CTRL</text>
<text transform="translate(487.3,355.5) scale(0.94,1)" x="0" y="0" font-size="8.7" fill="#050505">TFEB</text>
<line x1="47.60" y1="611.00" x2="52.20" y2="611.00" stroke="#111" stroke-width="1.1" />
<text x="45.20" y="614.40" font-size="8.6" text-anchor="end" font-weight="normal" fill="#050505" >5</text>
<line x1="47.60" y1="590.20" x2="52.20" y2="590.20" stroke="#111" stroke-width="1.1" />
<text x="45.20" y="593.60" font-size="8.6" text-anchor="end" font-weight="normal" fill="#050505" >6</text>
<line x1="47.60" y1="569.40" x2="52.20" y2="569.40" stroke="#111" stroke-width="1.1" />
<text x="45.20" y="572.80" font-size="8.6" text-anchor="end" font-weight="normal" fill="#050505" >7</text>
<line x1="47.60" y1="548.60" x2="52.20" y2="548.60" stroke="#111" stroke-width="1.1" />
<text x="45.20" y="552.00" font-size="8.6" text-anchor="end" font-weight="normal" fill="#050505" >8</text>
<line x1="47.60" y1="527.80" x2="52.20" y2="527.80" stroke="#111" stroke-width="1.1" />
<text x="45.20" y="531.20" font-size="8.6" text-anchor="end" font-weight="normal" fill="#050505" >9</text>
<line x1="47.60" y1="507.00" x2="52.20" y2="507.00" stroke="#111" stroke-width="1.1" />
<text x="45.20" y="510.40" font-size="8.6" text-anchor="end" font-weight="normal" fill="#050505" >10</text>
<text transform="translate(29.6,563.7) rotate(-90)" x="0" y="0" font-size="9.7" text-anchor="middle" fill="#050505">mRNA expression level (RMA, log2)</text>
<line x1="74.90" y1="521.10" x2="74.90" y2="527.70" stroke="#111" stroke-width="1.5" stroke-dasharray="2.4,2.3" stroke-dashoffset="2.4"/>
<line x1="72.40" y1="521.10" x2="77.40" y2="521.10" stroke="#111" stroke-width="1.4" />
<line x1="74.90" y1="581.40" x2="74.90" y2="550.40" stroke="#111" stroke-width="1.5" stroke-dasharray="2.4,2.3" stroke-dashoffset="2.4"/>
<line x1="72.40" y1="581.40" x2="77.40" y2="581.40" stroke="#111" stroke-width="1.4" />
<rect x="70.35" y="527.70" width="9.10" height="22.70" fill="#C81616" stroke="none" stroke-width="1" />
<line x1="70.35" y1="537.60" x2="79.45" y2="537.60" stroke="#1a0a0a" stroke-width="1.9" />
<circle cx="74.90" cy="585.50" r="1.55" fill="none" stroke="#111" stroke-width="1.2"/>
<line x1="74.90" y1="628.20" x2="74.90" y2="631.50" stroke="#111" stroke-width="1.0" />
<text transform="translate(78.30,634.9) rotate(-90)" x="0" y="0" font-size="8.85" text-anchor="end" fill="#050505">Lymphoma_DLBCL</text>
<line x1="86.07" y1="517.00" x2="86.07" y2="538.10" stroke="#111" stroke-width="1.5" stroke-dasharray="2.4,2.3" stroke-dashoffset="2.4"/>
<line x1="83.57" y1="517.00" x2="88.57" y2="517.00" stroke="#111" stroke-width="1.4" />
<line x1="86.07" y1="568.90" x2="86.07" y2="557.20" stroke="#111" stroke-width="1.5" stroke-dasharray="2.4,2.3" stroke-dashoffset="2.4"/>
<line x1="83.57" y1="568.90" x2="88.57" y2="568.90" stroke="#111" stroke-width="1.4" />
<rect x="81.52" y="538.10" width="9.10" height="19.10" fill="#D2281C" stroke="none" stroke-width="1" />
<line x1="81.52" y1="547.80" x2="90.62" y2="547.80" stroke="#1a0a0a" stroke-width="1.9" />
<line x1="86.07" y1="628.20" x2="86.07" y2="631.50" stroke="#111" stroke-width="1.0" />
<text transform="translate(89.47,634.9) rotate(-90)" x="0" y="0" font-size="8.85" text-anchor="end" fill="#050505">Lymphoma_Burkitt</text>
<line x1="97.24" y1="503.20" x2="97.24" y2="536.10" stroke="#111" stroke-width="1.5" stroke-dasharray="2.4,2.3" stroke-dashoffset="2.4"/>
<line x1="94.74" y1="503.20" x2="99.74" y2="503.20" stroke="#111" stroke-width="1.4" />
<line x1="97.24" y1="606.40" x2="97.24" y2="585.90" stroke="#111" stroke-width="1.5" stroke-dasharray="2.4,2.3" stroke-dashoffset="2.4"/>
<line x1="94.74" y1="606.40" x2="99.74" y2="606.40" stroke="#111" stroke-width="1.4" />
<rect x="92.69" y="536.10" width="9.10" height="49.80" fill="#DA5416" stroke="none" stroke-width="1" />
<line x1="92.69" y1="551.50" x2="101.79" y2="551.50" stroke="#1a0a0a" stroke-width="1.9" />
<line x1="97.24" y1="628.20" x2="97.24" y2="631.50" stroke="#111" stroke-width="1.0" />
<text transform="translate(100.64,634.9) rotate(-90)" x="0" y="0" font-size="8.85" text-anchor="end" fill="#050505">Lymphoma_Other</text>
<line x1="108.41" y1="534.40" x2="108.41" y2="551.00" stroke="#111" stroke-width="1.5" stroke-dasharray="2.4,2.3" stroke-dashoffset="2.4"/>
<line x1="105.91" y1="534.40" x2="110.91" y2="534.40" stroke="#111" stroke-width="1.4" />
<line x1="108.41" y1="578.70" x2="108.41" y2="568.30" stroke="#111" stroke-width="1.5" stroke-dasharray="2.4,2.3" stroke-dashoffset="2.4"/>
<line x1="105.91" y1="578.70" x2="110.91" y2="578.70" stroke="#111" stroke-width="1.4" />
<rect x="103.86" y="551.00" width="9.10" height="17.30" fill="#E6841E" stroke="none" stroke-width="1" />
<line x1="103.86" y1="558.40" x2="112.96" y2="558.40" stroke="#1a0a0a" stroke-width="1.9" />
<line x1="108.41" y1="628.20" x2="108.41" y2="631.50" stroke="#111" stroke-width="1.0" />
<text transform="translate(111.81,634.9) rotate(-90)" x="0" y="0" font-size="8.85" text-anchor="end" fill="#050505">B-cell_ALL</text>
<line x1="119.58" y1="541.20" x2="119.58" y2="556.90" stroke="#111" stroke-width="1.5" stroke-dasharray="2.4,2.3" stroke-dashoffset="2.4"/>
<line x1="117.08" y1="541.20" x2="122.08" y2="541.20" stroke="#111" stroke-width="1.4" />
<line x1="119.58" y1="607.80" x2="119.58" y2="585.30" stroke="#111" stroke-width="1.5" stroke-dasharray="2.4,2.3" stroke-dashoffset="2.4"/>
<line x1="117.08" y1="607.80" x2="122.08" y2="607.80" stroke="#111" stroke-width="1.4" />
<rect x="115.03" y="556.90" width="9.10" height="28.40" fill="#EAAA22" stroke="none" stroke-width="1" />
<line x1="115.03" y1="575.50" x2="124.13" y2="575.50" stroke="#1a0a0a" stroke-width="1.9" />
<line x1="119.58" y1="628.20" x2="119.58" y2="631.50" stroke="#111" stroke-width="1.0" />
<text transform="translate(122.98,634.9) rotate(-90)" x="0" y="0" font-size="8.85" text-anchor="end" fill="#050505">Multiple_Myeloma</text>
<line x1="130.75" y1="573.10" x2="130.75" y2="578.80" stroke="#111" stroke-width="1.5" stroke-dasharray="2.4,2.3" stroke-dashoffset="2.4"/>
<line x1="128.25" y1="573.10" x2="133.25" y2="573.10" stroke="#111" stroke-width="1.4" />
<line x1="130.75" y1="589.60" x2="130.75" y2="587.80" stroke="#111" stroke-width="1.5" stroke-dasharray="2.4,2.3" stroke-dashoffset="2.4"/>
<line x1="128.25" y1="589.60" x2="133.25" y2="589.60" stroke="#111" stroke-width="1.4" />
<rect x="126.20" y="578.80" width="9.10" height="9.00" fill="#E8C82C" stroke="none" stroke-width="1" />
<line x1="126.20" y1="583.90" x2="135.30" y2="583.90" stroke="#1a0a0a" stroke-width="1.9" />
<line x1="130.75" y1="628.20" x2="130.75" y2="631.50" stroke="#111" stroke-width="1.0" />
<text transform="translate(134.15,634.9) rotate(-90)" x="0" y="0" font-size="8.85" text-anchor="end" fill="#050505">Meningioma</text>
<line x1="141.92" y1="565.60" x2="141.92" y2="584.80" stroke="#111" stroke-width="1.5" stroke-dasharray="2.4,2.3" stroke-dashoffset="2.4"/>
<line x1="139.42" y1="565.60" x2="144.42" y2="565.60" stroke="#111" stroke-width="1.4" />
<line x1="141.92" y1="606.70" x2="141.92" y2="601.30" stroke="#111" stroke-width="1.5" stroke-dasharray="2.4,2.3" stroke-dashoffset="2.4"/>
<line x1="139.42" y1="606.70" x2="144.42" y2="606.70" stroke="#111" stroke-width="1.4" />
<rect x="137.37" y="584.80" width="9.10" height="16.50" fill="#F0E42E" stroke="none" stroke-width="1" />
<line x1="137.37" y1="585.50" x2="146.47" y2="585.50" stroke="#1a0a0a" stroke-width="1.9" />
<line x1="141.92" y1="628.20" x2="141.92" y2="631.50" stroke="#111" stroke-width="1.0" />
<text transform="translate(145.32,634.9) rotate(-90)" x="0" y="0" font-size="8.85" text-anchor="end" fill="#050505">Other</text>
<line x1="153.09" y1="562.80" x2="153.09" y2="582.50" stroke="#111" stroke-width="1.5" stroke-dasharray="2.4,2.3" stroke-dashoffset="2.4"/>
<line x1="150.59" y1="562.80" x2="155.59" y2="562.80" stroke="#111" stroke-width="1.4" />
<line x1="153.09" y1="605.40" x2="153.09" y2="595.70" stroke="#111" stroke-width="1.5" stroke-dasharray="2.4,2.3" stroke-dashoffset="2.4"/>
<line x1="150.59" y1="605.40" x2="155.59" y2="605.40" stroke="#111" stroke-width="1.4" />
<rect x="148.54" y="582.50" width="9.10" height="13.20" fill="#DCE034" stroke="none" stroke-width="1" />
<line x1="148.54" y1="588.70" x2="157.64" y2="588.70" stroke="#1a0a0a" stroke-width="1.9" />
<circle cx="153.09" cy="542.80" r="1.55" fill="none" stroke="#111" stroke-width="1.2"/>
<line x1="153.09" y1="628.20" x2="153.09" y2="631.50" stroke="#111" stroke-width="1.0" />
<text transform="translate(156.49,634.9) rotate(-90)" x="0" y="0" font-size="8.85" text-anchor="end" fill="#050505">Kidney</text>
<line x1="164.26" y1="581.70" x2="164.26" y2="587.10" stroke="#111" stroke-width="1.5" stroke-dasharray="2.4,2.3" stroke-dashoffset="2.4"/>
<line x1="161.76" y1="581.70" x2="166.76" y2="581.70" stroke="#111" stroke-width="1.4" />
<line x1="164.26" y1="608.10" x2="164.26" y2="602.90" stroke="#111" stroke-width="1.5" stroke-dasharray="2.4,2.3" stroke-dashoffset="2.4"/>
<line x1="161.76" y1="608.10" x2="166.76" y2="608.10" stroke="#111" stroke-width="1.4" />
<rect x="159.71" y="587.10" width="9.10" height="15.80" fill="#C0D636" stroke="none" stroke-width="1" />
<line x1="159.71" y1="592.30" x2="168.81" y2="592.30" stroke="#1a0a0a" stroke-width="1.9" />
<circle cx="164.26" cy="535.00" r="1.55" fill="none" stroke="#111" stroke-width="1.2"/>
<line x1="164.26" y1="628.20" x2="164.26" y2="631.50" stroke="#111" stroke-width="1.0" />
<text transform="translate(167.66,634.9) rotate(-90)" x="0" y="0" font-size="8.85" text-anchor="end" fill="#050505">Lymphoma_Hodgkin</text>
<line x1="175.43" y1="580.20" x2="175.43" y2="584.20" stroke="#111" stroke-width="1.5" stroke-dasharray="2.4,2.3" stroke-dashoffset="2.4"/>
<line x1="172.93" y1="580.20" x2="177.93" y2="580.20" stroke="#111" stroke-width="1.4" />
<line x1="175.43" y1="616.40" x2="175.43" y2="604.80" stroke="#111" stroke-width="1.5" stroke-dasharray="2.4,2.3" stroke-dashoffset="2.4"/>
<line x1="172.93" y1="616.40" x2="177.93" y2="616.40" stroke="#111" stroke-width="1.4" />
<rect x="170.88" y="584.20" width="9.10" height="20.60" fill="#A8CC3A" stroke="none" stroke-width="1" />
<line x1="170.88" y1="593.30" x2="179.98" y2="593.30" stroke="#1a0a0a" stroke-width="1.9" />
<circle cx="175.43" cy="545.10" r="1.55" fill="none" stroke="#111" stroke-width="1.2"/>
<line x1="175.43" y1="628.20" x2="175.43" y2="631.50" stroke="#111" stroke-width="1.0" />
<text transform="translate(178.83,634.9) rotate(-90)" x="0" y="0" font-size="8.85" text-anchor="end" fill="#050505">Bile_Duct</text>
<line x1="186.60" y1="571.50" x2="186.60" y2="582.10" stroke="#111" stroke-width="1.5" stroke-dasharray="2.4,2.3" stroke-dashoffset="2.4"/>
<line x1="184.10" y1="571.50" x2="189.10" y2="571.50" stroke="#111" stroke-width="1.4" />
<line x1="186.60" y1="612.90" x2="186.60" y2="601.00" stroke="#111" stroke-width="1.5" stroke-dasharray="2.4,2.3" stroke-dashoffset="2.4"/>
<line x1="184.10" y1="612.90" x2="189.10" y2="612.90" stroke="#111" stroke-width="1.4" />
<rect x="182.05" y="582.10" width="9.10" height="18.90" fill="#94C43E" stroke="none" stroke-width="1" />
<line x1="182.05" y1="593.30" x2="191.15" y2="593.30" stroke="#1a0a0a" stroke-width="1.9" />
<line x1="186.60" y1="628.20" x2="186.60" y2="631.50" stroke="#111" stroke-width="1.0" />
<text transform="translate(190.00,634.9) rotate(-90)" x="0" y="0" font-size="8.85" text-anchor="end" fill="#050505">Upper_Aerodigestive</text>
<line x1="197.77" y1="571.70" x2="197.77" y2="587.10" stroke="#111" stroke-width="1.5" stroke-dasharray="2.4,2.3" stroke-dashoffset="2.4"/>
<line x1="195.27" y1="571.70" x2="200.27" y2="571.70" stroke="#111" stroke-width="1.4" />
<line x1="197.77" y1="614.10" x2="197.77" y2="603.90" stroke="#111" stroke-width="1.5" stroke-dasharray="2.4,2.3" stroke-dashoffset="2.4"/>
<line x1="195.27" y1="614.10" x2="200.27" y2="614.10" stroke="#111" stroke-width="1.4" />
<rect x="193.22" y="587.10" width="9.10" height="16.80" fill="#84BC42" stroke="none" stroke-width="1" />
<line x1="193.22" y1="594.60" x2="202.32" y2="594.60" stroke="#1a0a0a" stroke-width="1.9" />
<line x1="197.77" y1="628.20" x2="197.77" y2="631.50" stroke="#111" stroke-width="1.0" />
<text transform="translate(201.17,634.9) rotate(-90)" x="0" y="0" font-size="8.85" text-anchor="end" fill="#050505">Breast</text>
<line x1="208.94" y1="573.40" x2="208.94" y2="588.00" stroke="#111" stroke-width="1.5" stroke-dasharray="2.4,2.3" stroke-dashoffset="2.4"/>
<line x1="206.44" y1="573.40" x2="211.44" y2="573.40" stroke="#111" stroke-width="1.4" />
<line x1="208.94" y1="616.00" x2="208.94" y2="602.50" stroke="#111" stroke-width="1.5" stroke-dasharray="2.4,2.3" stroke-dashoffset="2.4"/>
<line x1="206.44" y1="616.00" x2="211.44" y2="616.00" stroke="#111" stroke-width="1.4" />
<rect x="204.39" y="588.00" width="9.10" height="14.50" fill="#7CB840" stroke="none" stroke-width="1" />
<line x1="204.39" y1="595.60" x2="213.49" y2="595.60" stroke="#1a0a0a" stroke-width="1.9" />
<circle cx="208.94" cy="564.70" r="1.55" fill="none" stroke="#111" stroke-width="1.2"/>
<line x1="208.94" y1="628.20" x2="208.94" y2="631.50" stroke="#111" stroke-width="1.0" />
<text transform="translate(212.34,634.9) rotate(-90)" x="0" y="0" font-size="8.85" text-anchor="end" fill="#050505">Glioma</text>
<line x1="220.11" y1="586.50" x2="220.11" y2="589.00" stroke="#111" stroke-width="1.5" stroke-dasharray="2.4,2.3" stroke-dashoffset="2.4"/>
<line x1="217.61" y1="586.50" x2="222.61" y2="586.50" stroke="#111" stroke-width="1.4" />
<line x1="220.11" y1="610.60" x2="220.11" y2="607.70" stroke="#111" stroke-width="1.5" stroke-dasharray="2.4,2.3" stroke-dashoffset="2.4"/>
<line x1="217.61" y1="610.60" x2="222.61" y2="610.60" stroke="#111" stroke-width="1.4" />
<rect x="215.56" y="589.00" width="9.10" height="18.70" fill="#7EB83E" stroke="none" stroke-width="1" />
<line x1="215.56" y1="596.20" x2="224.66" y2="596.20" stroke="#1a0a0a" stroke-width="1.9" />
<circle cx="220.11" cy="523.30" r="1.55" fill="none" stroke="#111" stroke-width="1.2"/>
<line x1="220.11" y1="628.20" x2="220.11" y2="631.50" stroke="#111" stroke-width="1.0" />
<text transform="translate(223.51,634.9) rotate(-90)" x="0" y="0" font-size="8.85" text-anchor="end" fill="#050505">Prostate</text>
<line x1="231.28" y1="561.10" x2="231.28" y2="585.60" stroke="#111" stroke-width="1.5" stroke-dasharray="2.4,2.3" stroke-dashoffset="2.4"/>
<line x1="228.78" y1="561.10" x2="233.78" y2="561.10" stroke="#111" stroke-width="1.4" />
<line x1="231.28" y1="611.20" x2="231.28" y2="605.20" stroke="#111" stroke-width="1.5" stroke-dasharray="2.4,2.3" stroke-dashoffset="2.4"/>
<line x1="228.78" y1="611.20" x2="233.78" y2="611.20" stroke="#111" stroke-width="1.4" />
<rect x="226.73" y="585.60" width="9.10" height="19.60" fill="#80B842" stroke="none" stroke-width="1" />
<line x1="226.73" y1="596.70" x2="235.83" y2="596.70" stroke="#1a0a0a" stroke-width="1.9" />
<line x1="231.28" y1="628.20" x2="231.28" y2="631.50" stroke="#111" stroke-width="1.0" />
<text transform="translate(234.68,634.9) rotate(-90)" x="0" y="0" font-size="8.85" text-anchor="end" fill="#050505">Colorectal</text>
<line x1="242.45" y1="557.60" x2="242.45" y2="585.00" stroke="#111" stroke-width="1.5" stroke-dasharray="2.4,2.3" stroke-dashoffset="2.4"/>
<line x1="239.95" y1="557.60" x2="244.95" y2="557.60" stroke="#111" stroke-width="1.4" />
<line x1="242.45" y1="615.40" x2="242.45" y2="609.10" stroke="#111" stroke-width="1.5" stroke-dasharray="2.4,2.3" stroke-dashoffset="2.4"/>
<line x1="239.95" y1="615.40" x2="244.95" y2="615.40" stroke="#111" stroke-width="1.4" />
<rect x="237.90" y="585.00" width="9.10" height="24.10" fill="#CE0E4C" stroke="none" stroke-width="1" />
<line x1="237.90" y1="596.50" x2="247.00" y2="596.50" stroke="#1a0a0a" stroke-width="1.9" />
<line x1="242.45" y1="628.20" x2="242.45" y2="631.50" stroke="#111" stroke-width="1.0" />
<text transform="translate(245.85,634.9) rotate(-90)" x="0" y="0" font-size="8.85" text-anchor="end" fill="#050505">Stomach</text>
<line x1="253.62" y1="563.40" x2="253.62" y2="588.00" stroke="#111" stroke-width="1.5" stroke-dasharray="2.4,2.3" stroke-dashoffset="2.4"/>
<line x1="251.12" y1="563.40" x2="256.12" y2="563.40" stroke="#111" stroke-width="1.4" />
<line x1="253.62" y1="614.50" x2="253.62" y2="607.70" stroke="#111" stroke-width="1.5" stroke-dasharray="2.4,2.3" stroke-dashoffset="2.4"/>
<line x1="251.12" y1="614.50" x2="256.12" y2="614.50" stroke="#111" stroke-width="1.4" />
<rect x="249.07" y="588.00" width="9.10" height="19.70" fill="#8CC27A" stroke="none" stroke-width="1" />
<line x1="249.07" y1="598.10" x2="258.17" y2="598.10" stroke="#1a0a0a" stroke-width="1.9" />
<line x1="253.62" y1="628.20" x2="253.62" y2="631.50" stroke="#111" stroke-width="1.0" />
<text transform="translate(257.02,634.9) rotate(-90)" x="0" y="0" font-size="8.85" text-anchor="end" fill="#050505">Ovary</text>
<line x1="264.79" y1="580.40" x2="264.79" y2="582.70" stroke="#111" stroke-width="1.5" stroke-dasharray="2.4,2.3" stroke-dashoffset="2.4"/>
<line x1="262.29" y1="580.40" x2="267.29" y2="580.40" stroke="#111" stroke-width="1.4" />
<line x1="264.79" y1="615.40" x2="264.79" y2="612.90" stroke="#111" stroke-width="1.5" stroke-dasharray="2.4,2.3" stroke-dashoffset="2.4"/>
<line x1="262.29" y1="615.40" x2="267.29" y2="615.40" stroke="#111" stroke-width="1.4" />
<rect x="260.24" y="582.70" width="9.10" height="30.20" fill="#8EC8A6" stroke="none" stroke-width="1" />
<line x1="260.24" y1="598.10" x2="269.34" y2="598.10" stroke="#1a0a0a" stroke-width="1.9" />
<line x1="264.79" y1="628.20" x2="264.79" y2="631.50" stroke="#111" stroke-width="1.0" />
<text transform="translate(268.19,634.9) rotate(-90)" x="0" y="0" font-size="8.85" text-anchor="end" fill="#050505">Medulloblastoma</text>
<line x1="275.96" y1="565.70" x2="275.96" y2="588.40" stroke="#111" stroke-width="1.5" stroke-dasharray="2.4,2.3" stroke-dashoffset="2.4"/>
<line x1="273.46" y1="565.70" x2="278.46" y2="565.70" stroke="#111" stroke-width="1.4" />
<line x1="275.96" y1="606.40" x2="275.96" y2="604.80" stroke="#111" stroke-width="1.5" stroke-dasharray="2.4,2.3" stroke-dashoffset="2.4"/>
<line x1="273.46" y1="606.40" x2="278.46" y2="606.40" stroke="#111" stroke-width="1.4" />
<rect x="271.41" y="588.40" width="9.10" height="16.40" fill="#8EC8D2" stroke="none" stroke-width="1" />
<line x1="271.41" y1="598.10" x2="280.51" y2="598.10" stroke="#1a0a0a" stroke-width="1.9" />
<line x1="275.96" y1="628.20" x2="275.96" y2="631.50" stroke="#111" stroke-width="1.0" />
<text transform="translate(279.36,634.9) rotate(-90)" x="0" y="0" font-size="8.85" text-anchor="end" fill="#050505">Ewings_Scarcoma</text>
<line x1="287.13" y1="584.00" x2="287.13" y2="595.20" stroke="#111" stroke-width="1.5" stroke-dasharray="2.4,2.3" stroke-dashoffset="2.4"/>
<line x1="284.63" y1="584.00" x2="289.63" y2="584.00" stroke="#111" stroke-width="1.4" />
<line x1="287.13" y1="614.80" x2="287.13" y2="604.20" stroke="#111" stroke-width="1.5" stroke-dasharray="2.4,2.3" stroke-dashoffset="2.4"/>
<line x1="284.63" y1="614.80" x2="289.63" y2="614.80" stroke="#111" stroke-width="1.4" />
<rect x="282.58" y="595.20" width="9.10" height="9.00" fill="#A2CEE6" stroke="none" stroke-width="1" />
<line x1="282.58" y1="598.50" x2="291.68" y2="598.50" stroke="#1a0a0a" stroke-width="1.9" />
<circle cx="287.13" cy="573.00" r="1.55" fill="none" stroke="#111" stroke-width="1.2"/>
<line x1="287.13" y1="628.20" x2="287.13" y2="631.50" stroke="#111" stroke-width="1.0" />
<text transform="translate(290.53,634.9) rotate(-90)" x="0" y="0" font-size="8.85" text-anchor="end" fill="#050505">Mesothelioma</text>
<line x1="298.30" y1="550.90" x2="298.30" y2="573.60" stroke="#111" stroke-width="1.5" stroke-dasharray="2.4,2.3" stroke-dashoffset="2.4"/>
<line x1="295.80" y1="550.90" x2="300.80" y2="550.90" stroke="#111" stroke-width="1.4" />
<line x1="298.30" y1="621.20" x2="298.30" y2="607.70" stroke="#111" stroke-width="1.5" stroke-dasharray="2.4,2.3" stroke-dashoffset="2.4"/>
<line x1="295.80" y1="621.20" x2="300.80" y2="621.20" stroke="#111" stroke-width="1.4" />
<rect x="293.75" y="573.60" width="9.10" height="34.10" fill="#72B6EA" stroke="none" stroke-width="1" />
<line x1="293.75" y1="598.50" x2="302.85" y2="598.50" stroke="#1a0a0a" stroke-width="1.9" />
<line x1="298.30" y1="628.20" x2="298.30" y2="631.50" stroke="#111" stroke-width="1.0" />
<text transform="translate(301.70,634.9) rotate(-90)" x="0" y="0" font-size="8.85" text-anchor="end" fill="#050505">Lung_Small_Cell</text>
<line x1="309.47" y1="569.20" x2="309.47" y2="591.90" stroke="#111" stroke-width="1.5" stroke-dasharray="2.4,2.3" stroke-dashoffset="2.4"/>
<line x1="306.97" y1="569.20" x2="311.97" y2="569.20" stroke="#111" stroke-width="1.4" />
<line x1="309.47" y1="618.60" x2="309.47" y2="607.40" stroke="#111" stroke-width="1.5" stroke-dasharray="2.4,2.3" stroke-dashoffset="2.4"/>
<line x1="306.97" y1="618.60" x2="311.97" y2="618.60" stroke="#111" stroke-width="1.4" />
<rect x="304.92" y="591.90" width="9.10" height="15.50" fill="#5484D0" stroke="none" stroke-width="1" />
<line x1="304.92" y1="599.60" x2="314.02" y2="599.60" stroke="#1a0a0a" stroke-width="1.9" />
<circle cx="309.47" cy="554.00" r="1.55" fill="none" stroke="#111" stroke-width="1.2"/>
<circle cx="309.47" cy="560.40" r="1.55" fill="none" stroke="#111" stroke-width="1.2"/>
<circle cx="309.47" cy="568.00" r="1.55" fill="none" stroke="#111" stroke-width="1.2"/>
<line x1="309.47" y1="628.20" x2="309.47" y2="631.50" stroke="#111" stroke-width="1.0" />
<text transform="translate(312.87,634.9) rotate(-90)" x="0" y="0" font-size="8.85" text-anchor="end" fill="#050505">Lung_NSC</text>
<line x1="320.64" y1="584.60" x2="320.64" y2="591.90" stroke="#111" stroke-width="1.5" stroke-dasharray="2.4,2.3" stroke-dashoffset="2.4"/>
<line x1="318.14" y1="584.60" x2="323.14" y2="584.60" stroke="#111" stroke-width="1.4" />
<line x1="320.64" y1="617.30" x2="320.64" y2="607.30" stroke="#111" stroke-width="1.5" stroke-dasharray="2.4,2.3" stroke-dashoffset="2.4"/>
<line x1="318.14" y1="617.30" x2="323.14" y2="617.30" stroke="#111" stroke-width="1.4" />
<rect x="316.09" y="591.90" width="9.10" height="15.40" fill="#4A70BE" stroke="none" stroke-width="1" />
<line x1="316.09" y1="600.00" x2="325.19" y2="600.00" stroke="#1a0a0a" stroke-width="1.9" />
<line x1="320.64" y1="628.20" x2="320.64" y2="631.50" stroke="#111" stroke-width="1.0" />
<text transform="translate(324.04,634.9) rotate(-90)" x="0" y="0" font-size="8.85" text-anchor="end" fill="#050505">Thyroid</text>
<line x1="331.81" y1="580.40" x2="331.81" y2="590.80" stroke="#111" stroke-width="1.5" stroke-dasharray="2.4,2.3" stroke-dashoffset="2.4"/>
<line x1="329.31" y1="580.40" x2="334.31" y2="580.40" stroke="#111" stroke-width="1.4" />
<rect x="327.26" y="590.80" width="9.10" height="13.10" fill="#4260B0" stroke="none" stroke-width="1" />
<line x1="327.26" y1="600.60" x2="336.36" y2="600.60" stroke="#1a0a0a" stroke-width="1.9" />
<line x1="331.81" y1="628.20" x2="331.81" y2="631.50" stroke="#111" stroke-width="1.0" />
<text transform="translate(335.21,634.9) rotate(-90)" x="0" y="0" font-size="8.85" text-anchor="end" fill="#050505">Chondrosarcoma</text>
<line x1="342.98" y1="557.60" x2="342.98" y2="585.90" stroke="#111" stroke-width="1.5" stroke-dasharray="2.4,2.3" stroke-dashoffset="2.4"/>
<line x1="340.48" y1="557.60" x2="345.48" y2="557.60" stroke="#111" stroke-width="1.4" />
<line x1="342.98" y1="614.80" x2="342.98" y2="610.60" stroke="#111" stroke-width="1.5" stroke-dasharray="2.4,2.3" stroke-dashoffset="2.4"/>
<line x1="340.48" y1="614.80" x2="345.48" y2="614.80" stroke="#111" stroke-width="1.4" />
<rect x="338.43" y="585.90" width="9.10" height="24.70" fill="#4250A6" stroke="none" stroke-width="1" />
<line x1="338.43" y1="601.90" x2="347.53" y2="601.90" stroke="#1a0a0a" stroke-width="1.9" />
<line x1="342.98" y1="628.20" x2="342.98" y2="631.50" stroke="#111" stroke-width="1.0" />
<text transform="translate(346.38,634.9) rotate(-90)" x="0" y="0" font-size="8.85" text-anchor="end" fill="#050505">T-cell_ALL</text>
<line x1="354.15" y1="565.70" x2="354.15" y2="586.90" stroke="#111" stroke-width="1.5" stroke-dasharray="2.4,2.3" stroke-dashoffset="2.4"/>
<line x1="351.65" y1="565.70" x2="356.65" y2="565.70" stroke="#111" stroke-width="1.4" />
<line x1="354.15" y1="614.50" x2="354.15" y2="609.10" stroke="#111" stroke-width="1.5" stroke-dasharray="2.4,2.3" stroke-dashoffset="2.4"/>
<line x1="351.65" y1="614.50" x2="356.65" y2="614.50" stroke="#111" stroke-width="1.4" />
<rect x="349.60" y="586.90" width="9.10" height="22.20" fill="#4448A2" stroke="none" stroke-width="1" />
<line x1="349.60" y1="602.50" x2="358.70" y2="602.50" stroke="#1a0a0a" stroke-width="1.9" />
<line x1="354.15" y1="628.20" x2="354.15" y2="631.50" stroke="#111" stroke-width="1.0" />
<text transform="translate(357.55,634.9) rotate(-90)" x="0" y="0" font-size="8.85" text-anchor="end" fill="#050505">Liver</text>
<line x1="365.32" y1="573.60" x2="365.32" y2="594.80" stroke="#111" stroke-width="1.5" stroke-dasharray="2.4,2.3" stroke-dashoffset="2.4"/>
<line x1="362.82" y1="573.60" x2="367.82" y2="573.60" stroke="#111" stroke-width="1.4" />
<line x1="365.32" y1="616.40" x2="365.32" y2="609.60" stroke="#111" stroke-width="1.5" stroke-dasharray="2.4,2.3" stroke-dashoffset="2.4"/>
<line x1="362.82" y1="616.40" x2="367.82" y2="616.40" stroke="#111" stroke-width="1.4" />
<rect x="360.77" y="594.80" width="9.10" height="14.80" fill="#4A48A0" stroke="none" stroke-width="1" />
<line x1="360.77" y1="603.50" x2="369.87" y2="603.50" stroke="#1a0a0a" stroke-width="1.9" />
<circle cx="365.32" cy="557.60" r="1.55" fill="none" stroke="#111" stroke-width="1.2"/>
<circle cx="365.32" cy="563.40" r="1.55" fill="none" stroke="#111" stroke-width="1.2"/>
<line x1="365.32" y1="628.20" x2="365.32" y2="631.50" stroke="#111" stroke-width="1.0" />
<text transform="translate(368.72,634.9) rotate(-90)" x="0" y="0" font-size="8.85" text-anchor="end" fill="#050505">Pancreas</text>
<line x1="376.49" y1="589.40" x2="376.49" y2="598.10" stroke="#111" stroke-width="1.5" stroke-dasharray="2.4,2.3" stroke-dashoffset="2.4"/>
<line x1="373.99" y1="589.40" x2="378.99" y2="589.40" stroke="#111" stroke-width="1.4" />
<line x1="376.49" y1="616.80" x2="376.49" y2="607.70" stroke="#111" stroke-width="1.5" stroke-dasharray="2.4,2.3" stroke-dashoffset="2.4"/>
<line x1="373.99" y1="616.80" x2="378.99" y2="616.80" stroke="#111" stroke-width="1.4" />
<rect x="371.94" y="598.10" width="9.10" height="9.60" fill="#524CA0" stroke="none" stroke-width="1" />
<line x1="371.94" y1="603.30" x2="381.04" y2="603.30" stroke="#1a0a0a" stroke-width="1.9" />
<circle cx="376.49" cy="568.60" r="1.55" fill="none" stroke="#111" stroke-width="1.2"/>
<circle cx="376.49" cy="570.60" r="1.55" fill="none" stroke="#111" stroke-width="1.2"/>
<circle cx="376.49" cy="577.90" r="1.55" fill="none" stroke="#111" stroke-width="1.2"/>
<circle cx="376.49" cy="580.20" r="1.55" fill="none" stroke="#111" stroke-width="1.2"/>
<line x1="376.49" y1="628.20" x2="376.49" y2="631.50" stroke="#111" stroke-width="1.0" />
<text transform="translate(379.89,634.9) rotate(-90)" x="0" y="0" font-size="8.85" text-anchor="end" fill="#050505">Urinary_Tract</text>
<line x1="387.66" y1="579.20" x2="387.66" y2="594.80" stroke="#111" stroke-width="1.5" stroke-dasharray="2.4,2.3" stroke-dashoffset="2.4"/>
<line x1="385.16" y1="579.20" x2="390.16" y2="579.20" stroke="#111" stroke-width="1.4" />
<line x1="387.66" y1="614.80" x2="387.66" y2="609.60" stroke="#111" stroke-width="1.5" stroke-dasharray="2.4,2.3" stroke-dashoffset="2.4"/>
<line x1="385.16" y1="614.80" x2="390.16" y2="614.80" stroke="#111" stroke-width="1.4" />
<rect x="383.11" y="594.80" width="9.10" height="14.80" fill="#5E4AA0" stroke="none" stroke-width="1" />
<line x1="383.11" y1="603.50" x2="392.21" y2="603.50" stroke="#1a0a0a" stroke-width="1.9" />
<circle cx="387.66" cy="519.70" r="1.55" fill="none" stroke="#111" stroke-width="1.2"/>
<line x1="387.66" y1="628.20" x2="387.66" y2="631.50" stroke="#111" stroke-width="1.0" />
<text transform="translate(391.06,634.9) rotate(-90)" x="0" y="0" font-size="8.85" text-anchor="end" fill="#050505">Esophagus</text>
<line x1="398.83" y1="564.00" x2="398.83" y2="591.70" stroke="#111" stroke-width="1.5" stroke-dasharray="2.4,2.3" stroke-dashoffset="2.4"/>
<line x1="396.33" y1="564.00" x2="401.33" y2="564.00" stroke="#111" stroke-width="1.4" />
<line x1="398.83" y1="616.80" x2="398.83" y2="610.60" stroke="#111" stroke-width="1.5" stroke-dasharray="2.4,2.3" stroke-dashoffset="2.4"/>
<line x1="396.33" y1="616.80" x2="401.33" y2="616.80" stroke="#111" stroke-width="1.4" />
<rect x="394.28" y="591.70" width="9.10" height="18.90" fill="#6E48A0" stroke="none" stroke-width="1" />
<line x1="394.28" y1="603.50" x2="403.38" y2="603.50" stroke="#1a0a0a" stroke-width="1.9" />
<circle cx="398.83" cy="562.80" r="1.55" fill="none" stroke="#111" stroke-width="1.2"/>
<line x1="398.83" y1="628.20" x2="398.83" y2="631.50" stroke="#111" stroke-width="1.0" />
<text transform="translate(402.23,634.9) rotate(-90)" x="0" y="0" font-size="8.85" text-anchor="end" fill="#050505">CML</text>
<line x1="410.00" y1="575.50" x2="410.00" y2="592.90" stroke="#111" stroke-width="1.5" stroke-dasharray="2.4,2.3" stroke-dashoffset="2.4"/>
<line x1="407.50" y1="575.50" x2="412.50" y2="575.50" stroke="#111" stroke-width="1.4" />
<line x1="410.00" y1="617.30" x2="410.00" y2="608.70" stroke="#111" stroke-width="1.5" stroke-dasharray="2.4,2.3" stroke-dashoffset="2.4"/>
<line x1="407.50" y1="617.30" x2="412.50" y2="617.30" stroke="#111" stroke-width="1.4" />
<rect x="405.45" y="592.90" width="9.10" height="15.80" fill="#8A48A0" stroke="none" stroke-width="1" />
<line x1="405.45" y1="604.40" x2="414.55" y2="604.40" stroke="#1a0a0a" stroke-width="1.9" />
<line x1="410.00" y1="628.20" x2="410.00" y2="631.50" stroke="#111" stroke-width="1.0" />
<text transform="translate(413.40,634.9) rotate(-90)" x="0" y="0" font-size="8.85" text-anchor="end" fill="#050505">Neuroblastoma</text>
<line x1="421.17" y1="583.20" x2="421.17" y2="592.90" stroke="#111" stroke-width="1.5" stroke-dasharray="2.4,2.3" stroke-dashoffset="2.4"/>
<line x1="418.67" y1="583.20" x2="423.67" y2="583.20" stroke="#111" stroke-width="1.4" />
<line x1="421.17" y1="616.40" x2="421.17" y2="610.00" stroke="#111" stroke-width="1.5" stroke-dasharray="2.4,2.3" stroke-dashoffset="2.4"/>
<line x1="418.67" y1="616.40" x2="423.67" y2="616.40" stroke="#111" stroke-width="1.4" />
<rect x="416.62" y="592.90" width="9.10" height="17.10" fill="#9C469C" stroke="none" stroke-width="1" />
<line x1="416.62" y1="604.80" x2="425.72" y2="604.80" stroke="#1a0a0a" stroke-width="1.9" />
<line x1="421.17" y1="628.20" x2="421.17" y2="631.50" stroke="#111" stroke-width="1.0" />
<text transform="translate(424.57,634.9) rotate(-90)" x="0" y="0" font-size="8.85" text-anchor="end" fill="#050505">Soft_Tissue</text>
<line x1="432.34" y1="590.80" x2="432.34" y2="599.60" stroke="#111" stroke-width="1.5" stroke-dasharray="2.4,2.3" stroke-dashoffset="2.4"/>
<line x1="429.84" y1="590.80" x2="434.84" y2="590.80" stroke="#111" stroke-width="1.4" />
<line x1="432.34" y1="616.40" x2="432.34" y2="607.70" stroke="#111" stroke-width="1.5" stroke-dasharray="2.4,2.3" stroke-dashoffset="2.4"/>
<line x1="429.84" y1="616.40" x2="434.84" y2="616.40" stroke="#111" stroke-width="1.4" />
<rect x="427.79" y="599.60" width="9.10" height="8.10" fill="#B4408E" stroke="none" stroke-width="1" />
<line x1="427.79" y1="604.80" x2="436.89" y2="604.80" stroke="#1a0a0a" stroke-width="1.9" />
<circle cx="432.34" cy="567.30" r="1.55" fill="none" stroke="#111" stroke-width="1.2"/>
<circle cx="432.34" cy="572.60" r="1.55" fill="none" stroke="#111" stroke-width="1.2"/>
<circle cx="432.34" cy="584.60" r="1.55" fill="none" stroke="#111" stroke-width="1.2"/>
<line x1="432.34" y1="628.20" x2="432.34" y2="631.50" stroke="#111" stroke-width="1.0" />
<text transform="translate(435.74,634.9) rotate(-90)" x="0" y="0" font-size="8.85" text-anchor="end" fill="#050505">Endometrium</text>
<line x1="443.51" y1="557.60" x2="443.51" y2="584.20" stroke="#111" stroke-width="1.5" stroke-dasharray="2.4,2.3" stroke-dashoffset="2.4"/>
<line x1="441.01" y1="557.60" x2="446.01" y2="557.60" stroke="#111" stroke-width="1.4" />
<line x1="443.51" y1="623.40" x2="443.51" y2="611.60" stroke="#111" stroke-width="1.5" stroke-dasharray="2.4,2.3" stroke-dashoffset="2.4"/>
<line x1="441.01" y1="623.40" x2="446.01" y2="623.40" stroke="#111" stroke-width="1.4" />
<rect x="438.96" y="584.20" width="9.10" height="27.40" fill="#D22A82" stroke="none" stroke-width="1" />
<line x1="438.96" y1="605.80" x2="448.06" y2="605.80" stroke="#1a0a0a" stroke-width="1.9" />
<line x1="443.51" y1="628.20" x2="443.51" y2="631.50" stroke="#111" stroke-width="1.0" />
<text transform="translate(446.91,634.9) rotate(-90)" x="0" y="0" font-size="8.85" text-anchor="end" fill="#050505">AML</text>
<line x1="454.68" y1="592.80" x2="454.68" y2="602.00" stroke="#111" stroke-width="1.5" stroke-dasharray="2.4,2.3" stroke-dashoffset="2.4"/>
<line x1="452.18" y1="592.80" x2="457.18" y2="592.80" stroke="#111" stroke-width="1.4" />
<line x1="454.68" y1="616.30" x2="454.68" y2="611.30" stroke="#111" stroke-width="1.5" stroke-dasharray="2.4,2.3" stroke-dashoffset="2.4"/>
<line x1="452.18" y1="616.30" x2="457.18" y2="616.30" stroke="#111" stroke-width="1.4" />
<rect x="450.13" y="602.00" width="9.10" height="9.30" fill="#D01E66" stroke="none" stroke-width="1" />
<line x1="450.13" y1="607.20" x2="459.23" y2="607.20" stroke="#1a0a0a" stroke-width="1.9" />
<line x1="454.68" y1="628.20" x2="454.68" y2="631.50" stroke="#111" stroke-width="1.0" />
<text transform="translate(458.08,634.9) rotate(-90)" x="0" y="0" font-size="8.85" text-anchor="end" fill="#050505">Melanoma</text>
<line x1="465.85" y1="596.10" x2="465.85" y2="604.80" stroke="#111" stroke-width="1.5" stroke-dasharray="2.4,2.3" stroke-dashoffset="2.4"/>
<line x1="463.35" y1="596.10" x2="468.35" y2="596.10" stroke="#111" stroke-width="1.4" />
<line x1="465.85" y1="615.60" x2="465.85" y2="610.40" stroke="#111" stroke-width="1.5" stroke-dasharray="2.4,2.3" stroke-dashoffset="2.4"/>
<line x1="463.35" y1="615.60" x2="468.35" y2="615.60" stroke="#111" stroke-width="1.4" />
<rect x="461.30" y="604.80" width="9.10" height="5.60" fill="#BC1446" stroke="none" stroke-width="1" />
<line x1="461.30" y1="607.50" x2="470.40" y2="607.50" stroke="#1a0a0a" stroke-width="1.9" />
<circle cx="465.85" cy="568.30" r="1.55" fill="none" stroke="#111" stroke-width="1.2"/>
<line x1="465.85" y1="628.20" x2="465.85" y2="631.50" stroke="#111" stroke-width="1.0" />
<text transform="translate(469.25,634.9) rotate(-90)" x="0" y="0" font-size="8.85" text-anchor="end" fill="#050505">Osteosarcoma</text>
<line x1="472.42" y1="609.40" x2="481.62" y2="609.40" stroke="#1a1a1a" stroke-width="1.4" />
<line x1="477.02" y1="628.20" x2="477.02" y2="631.50" stroke="#111" stroke-width="1.0" />
<text transform="translate(480.42,634.9) rotate(-90)" x="0" y="0" font-size="8.85" text-anchor="end" fill="#050505">Leukemia_Other</text>
<rect x="52.20" y="499.00" width="447.00" height="129.20" fill="none" stroke="#151515" stroke-width="1.3" />
<rect x="65.40" y="632.40" width="38.30" height="81.70" fill="none" stroke="#9A2A3E" stroke-width="1.1" />
<line x1="52.20" y1="499.00" x2="499.20" y2="499.00" stroke="#2a2a2a" stroke-width="1.9" />
</svg>
</body></html>
